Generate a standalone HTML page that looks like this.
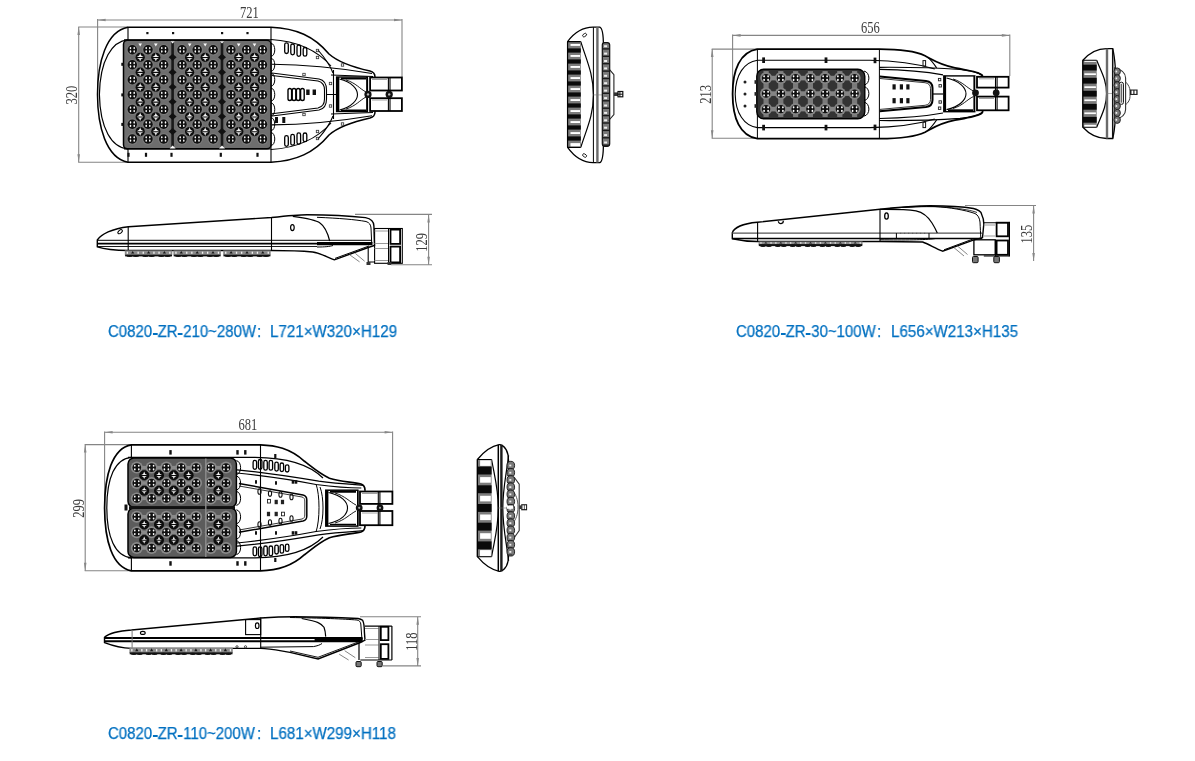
<!DOCTYPE html>
<html><head><meta charset="utf-8">
<style>
html,body{margin:0;padding:0;background:#fff;}
body{width:1195px;height:761px;position:relative;overflow:hidden;font-family:"Liberation Sans",sans-serif;}
svg{position:absolute;left:0;top:0;will-change:transform;}
.cap i{display:inline-block;width:4.9px;height:2.1px;background:#0070c0;vertical-align:2.4px;margin:0 0.45px;}
.cap{position:absolute;color:#0070c0;font-size:15.7px;white-space:nowrap;line-height:1;transform-origin:0 0;transform:scaleX(0.965);will-change:transform;-webkit-text-stroke:0.25px #0070c0;}
</style></head><body>
<svg width="1195" height="761" viewBox="0 0 1195 761">

<g stroke="#858585" stroke-width="1.1" fill="none"><path d="M97.6,20 H402"/><path d="M97.6,19 V95"/><path d="M402,19 V77"/><path d="M78.7,27 V162.3"/><path d="M78.2,27 H128"/><path d="M78.2,162.3 H128"/></g>
<path d="M97.6,20 l8,-1.3 l0,2.6Z" fill="#888"/><path d="M402,20 l-8,-1.3 l0,2.6Z" fill="#888"/><path d="M78.7,27 l-1.3,8 l2.6,0Z" fill="#888"/><path d="M78.7,162.3 l-1.3,-8 l2.6,0Z" fill="#888"/>
<text transform="translate(249.4,17.6) scale(0.775,1)" text-anchor="middle" font-family="Liberation Serif" font-size="16.2" fill="#3c3c3c">721</text>
<text transform="translate(77.2,95.1) rotate(-90) scale(0.775,1)" text-anchor="middle" font-family="Liberation Serif" font-size="16.2" fill="#3c3c3c">320</text>
<path d="M128,27.2 H271 C296,28.2 314,36 329,54 C338,62 352,67 370,71 C374,72 375,74 375,77 V112 C375,115 374,117 370,118 C352,122 338,127 329,135 C314,153 296,161 271,162.3 H128 C106,158 97.5,126 97.5,94.6 C97.5,63 106,31 128,27.2Z" fill="#fff" stroke="#000" stroke-width="1.5"/>
<path d="M128,39.8 C112,41 100,60 99.4,94.6 C100,129 112,148 128,149" fill="none" stroke="#000" stroke-width="1.2"/>
<path d="M128,27 V40 M128,149 V162.3 M271,27 V162.3" stroke="#000" stroke-width="1.1" fill="none"/>
<path d="M124,39.8 H271 M124,149 H271" stroke="#000" stroke-width="1.2"/>
<rect x="123.5" y="40.3" width="147.5" height="108.5" rx="4" fill="#6e6e6e" stroke="#000" stroke-width="1.5"/>
<rect x="121.3" y="62.8" width="2.4" height="3" fill="#111"/><rect x="121.3" y="93.4" width="2.4" height="3" fill="#111"/><rect x="121.3" y="122.9" width="2.4" height="3" fill="#111"/>
<circle cx="132.3" cy="49.8" r="5.9" fill="#7a7a7a"/><circle cx="132.3" cy="49.8" r="4.7" fill="#101010"/><ellipse cx="130.5" cy="48.1" rx="0.80" ry="1.15" fill="#fff"/><ellipse cx="130.5" cy="51.5" rx="0.80" ry="1.15" fill="#fff"/><ellipse cx="134.2" cy="48.1" rx="0.80" ry="1.15" fill="#fff"/><ellipse cx="134.2" cy="51.5" rx="0.80" ry="1.15" fill="#fff"/><circle cx="148.0" cy="49.8" r="5.9" fill="#7a7a7a"/><circle cx="148.0" cy="49.8" r="4.7" fill="#101010"/><ellipse cx="146.2" cy="48.1" rx="0.80" ry="1.15" fill="#fff"/><ellipse cx="146.2" cy="51.5" rx="0.80" ry="1.15" fill="#fff"/><ellipse cx="149.8" cy="48.1" rx="0.80" ry="1.15" fill="#fff"/><ellipse cx="149.8" cy="51.5" rx="0.80" ry="1.15" fill="#fff"/><circle cx="163.7" cy="49.8" r="5.9" fill="#7a7a7a"/><circle cx="163.7" cy="49.8" r="4.7" fill="#101010"/><ellipse cx="161.8" cy="48.1" rx="0.80" ry="1.15" fill="#fff"/><ellipse cx="161.8" cy="51.5" rx="0.80" ry="1.15" fill="#fff"/><ellipse cx="165.5" cy="48.1" rx="0.80" ry="1.15" fill="#fff"/><ellipse cx="165.5" cy="51.5" rx="0.80" ry="1.15" fill="#fff"/><circle cx="132.3" cy="64.8" r="5.9" fill="#7a7a7a"/><circle cx="132.3" cy="64.8" r="4.7" fill="#101010"/><ellipse cx="130.5" cy="63.1" rx="0.80" ry="1.15" fill="#fff"/><ellipse cx="130.5" cy="66.5" rx="0.80" ry="1.15" fill="#fff"/><ellipse cx="134.2" cy="63.1" rx="0.80" ry="1.15" fill="#fff"/><ellipse cx="134.2" cy="66.5" rx="0.80" ry="1.15" fill="#fff"/><circle cx="148.0" cy="64.8" r="5.9" fill="#7a7a7a"/><circle cx="148.0" cy="64.8" r="4.7" fill="#101010"/><ellipse cx="146.2" cy="63.1" rx="0.80" ry="1.15" fill="#fff"/><ellipse cx="146.2" cy="66.5" rx="0.80" ry="1.15" fill="#fff"/><ellipse cx="149.8" cy="63.1" rx="0.80" ry="1.15" fill="#fff"/><ellipse cx="149.8" cy="66.5" rx="0.80" ry="1.15" fill="#fff"/><circle cx="163.7" cy="64.8" r="5.9" fill="#7a7a7a"/><circle cx="163.7" cy="64.8" r="4.7" fill="#101010"/><ellipse cx="161.8" cy="63.1" rx="0.80" ry="1.15" fill="#fff"/><ellipse cx="161.8" cy="66.5" rx="0.80" ry="1.15" fill="#fff"/><ellipse cx="165.5" cy="63.1" rx="0.80" ry="1.15" fill="#fff"/><ellipse cx="165.5" cy="66.5" rx="0.80" ry="1.15" fill="#fff"/><circle cx="132.3" cy="79.7" r="5.9" fill="#7a7a7a"/><circle cx="132.3" cy="79.7" r="4.7" fill="#101010"/><ellipse cx="130.5" cy="78.0" rx="0.80" ry="1.15" fill="#fff"/><ellipse cx="130.5" cy="81.4" rx="0.80" ry="1.15" fill="#fff"/><ellipse cx="134.2" cy="78.0" rx="0.80" ry="1.15" fill="#fff"/><ellipse cx="134.2" cy="81.4" rx="0.80" ry="1.15" fill="#fff"/><circle cx="148.0" cy="79.7" r="5.9" fill="#7a7a7a"/><circle cx="148.0" cy="79.7" r="4.7" fill="#101010"/><ellipse cx="146.2" cy="78.0" rx="0.80" ry="1.15" fill="#fff"/><ellipse cx="146.2" cy="81.4" rx="0.80" ry="1.15" fill="#fff"/><ellipse cx="149.8" cy="78.0" rx="0.80" ry="1.15" fill="#fff"/><ellipse cx="149.8" cy="81.4" rx="0.80" ry="1.15" fill="#fff"/><circle cx="163.7" cy="79.7" r="5.9" fill="#7a7a7a"/><circle cx="163.7" cy="79.7" r="4.7" fill="#101010"/><ellipse cx="161.8" cy="78.0" rx="0.80" ry="1.15" fill="#fff"/><ellipse cx="161.8" cy="81.4" rx="0.80" ry="1.15" fill="#fff"/><ellipse cx="165.5" cy="78.0" rx="0.80" ry="1.15" fill="#fff"/><ellipse cx="165.5" cy="81.4" rx="0.80" ry="1.15" fill="#fff"/><circle cx="132.3" cy="94.6" r="5.9" fill="#7a7a7a"/><circle cx="132.3" cy="94.6" r="4.7" fill="#101010"/><ellipse cx="130.5" cy="92.9" rx="0.80" ry="1.15" fill="#fff"/><ellipse cx="130.5" cy="96.3" rx="0.80" ry="1.15" fill="#fff"/><ellipse cx="134.2" cy="92.9" rx="0.80" ry="1.15" fill="#fff"/><ellipse cx="134.2" cy="96.3" rx="0.80" ry="1.15" fill="#fff"/><circle cx="148.0" cy="94.6" r="5.9" fill="#7a7a7a"/><circle cx="148.0" cy="94.6" r="4.7" fill="#101010"/><ellipse cx="146.2" cy="92.9" rx="0.80" ry="1.15" fill="#fff"/><ellipse cx="146.2" cy="96.3" rx="0.80" ry="1.15" fill="#fff"/><ellipse cx="149.8" cy="92.9" rx="0.80" ry="1.15" fill="#fff"/><ellipse cx="149.8" cy="96.3" rx="0.80" ry="1.15" fill="#fff"/><circle cx="163.7" cy="94.6" r="5.9" fill="#7a7a7a"/><circle cx="163.7" cy="94.6" r="4.7" fill="#101010"/><ellipse cx="161.8" cy="92.9" rx="0.80" ry="1.15" fill="#fff"/><ellipse cx="161.8" cy="96.3" rx="0.80" ry="1.15" fill="#fff"/><ellipse cx="165.5" cy="92.9" rx="0.80" ry="1.15" fill="#fff"/><ellipse cx="165.5" cy="96.3" rx="0.80" ry="1.15" fill="#fff"/><circle cx="132.3" cy="109.4" r="5.9" fill="#7a7a7a"/><circle cx="132.3" cy="109.4" r="4.7" fill="#101010"/><ellipse cx="130.5" cy="107.7" rx="0.80" ry="1.15" fill="#fff"/><ellipse cx="130.5" cy="111.1" rx="0.80" ry="1.15" fill="#fff"/><ellipse cx="134.2" cy="107.7" rx="0.80" ry="1.15" fill="#fff"/><ellipse cx="134.2" cy="111.1" rx="0.80" ry="1.15" fill="#fff"/><circle cx="148.0" cy="109.4" r="5.9" fill="#7a7a7a"/><circle cx="148.0" cy="109.4" r="4.7" fill="#101010"/><ellipse cx="146.2" cy="107.7" rx="0.80" ry="1.15" fill="#fff"/><ellipse cx="146.2" cy="111.1" rx="0.80" ry="1.15" fill="#fff"/><ellipse cx="149.8" cy="107.7" rx="0.80" ry="1.15" fill="#fff"/><ellipse cx="149.8" cy="111.1" rx="0.80" ry="1.15" fill="#fff"/><circle cx="163.7" cy="109.4" r="5.9" fill="#7a7a7a"/><circle cx="163.7" cy="109.4" r="4.7" fill="#101010"/><ellipse cx="161.8" cy="107.7" rx="0.80" ry="1.15" fill="#fff"/><ellipse cx="161.8" cy="111.1" rx="0.80" ry="1.15" fill="#fff"/><ellipse cx="165.5" cy="107.7" rx="0.80" ry="1.15" fill="#fff"/><ellipse cx="165.5" cy="111.1" rx="0.80" ry="1.15" fill="#fff"/><circle cx="132.3" cy="124.2" r="5.9" fill="#7a7a7a"/><circle cx="132.3" cy="124.2" r="4.7" fill="#101010"/><ellipse cx="130.5" cy="122.5" rx="0.80" ry="1.15" fill="#fff"/><ellipse cx="130.5" cy="125.9" rx="0.80" ry="1.15" fill="#fff"/><ellipse cx="134.2" cy="122.5" rx="0.80" ry="1.15" fill="#fff"/><ellipse cx="134.2" cy="125.9" rx="0.80" ry="1.15" fill="#fff"/><circle cx="148.0" cy="124.2" r="5.9" fill="#7a7a7a"/><circle cx="148.0" cy="124.2" r="4.7" fill="#101010"/><ellipse cx="146.2" cy="122.5" rx="0.80" ry="1.15" fill="#fff"/><ellipse cx="146.2" cy="125.9" rx="0.80" ry="1.15" fill="#fff"/><ellipse cx="149.8" cy="122.5" rx="0.80" ry="1.15" fill="#fff"/><ellipse cx="149.8" cy="125.9" rx="0.80" ry="1.15" fill="#fff"/><circle cx="163.7" cy="124.2" r="5.9" fill="#7a7a7a"/><circle cx="163.7" cy="124.2" r="4.7" fill="#101010"/><ellipse cx="161.8" cy="122.5" rx="0.80" ry="1.15" fill="#fff"/><ellipse cx="161.8" cy="125.9" rx="0.80" ry="1.15" fill="#fff"/><ellipse cx="165.5" cy="122.5" rx="0.80" ry="1.15" fill="#fff"/><ellipse cx="165.5" cy="125.9" rx="0.80" ry="1.15" fill="#fff"/><circle cx="132.3" cy="139.0" r="5.9" fill="#7a7a7a"/><circle cx="132.3" cy="139.0" r="4.7" fill="#101010"/><ellipse cx="130.5" cy="137.3" rx="0.80" ry="1.15" fill="#fff"/><ellipse cx="130.5" cy="140.7" rx="0.80" ry="1.15" fill="#fff"/><ellipse cx="134.2" cy="137.3" rx="0.80" ry="1.15" fill="#fff"/><ellipse cx="134.2" cy="140.7" rx="0.80" ry="1.15" fill="#fff"/><circle cx="148.0" cy="139.0" r="5.9" fill="#7a7a7a"/><circle cx="148.0" cy="139.0" r="4.7" fill="#101010"/><ellipse cx="146.2" cy="137.3" rx="0.80" ry="1.15" fill="#fff"/><ellipse cx="146.2" cy="140.7" rx="0.80" ry="1.15" fill="#fff"/><ellipse cx="149.8" cy="137.3" rx="0.80" ry="1.15" fill="#fff"/><ellipse cx="149.8" cy="140.7" rx="0.80" ry="1.15" fill="#fff"/><circle cx="163.7" cy="139.0" r="5.9" fill="#7a7a7a"/><circle cx="163.7" cy="139.0" r="4.7" fill="#101010"/><ellipse cx="161.8" cy="137.3" rx="0.80" ry="1.15" fill="#fff"/><ellipse cx="161.8" cy="140.7" rx="0.80" ry="1.15" fill="#fff"/><ellipse cx="165.5" cy="137.3" rx="0.80" ry="1.15" fill="#fff"/><ellipse cx="165.5" cy="140.7" rx="0.80" ry="1.15" fill="#fff"/><circle cx="140.2" cy="57.3" r="4.6" fill="#0c0c0c"/><path d="M136.6,56.9 Q139.8,56.0 140.2,52.8 Q140.5,56.0 143.7,56.9Z" fill="#f4f4f4"/><path d="M137.1,58.0 Q139.8,58.9 140.2,61.6 Q140.5,58.9 143.2,58.0Z" fill="#e4e4e4"/><circle cx="155.8" cy="57.3" r="4.6" fill="#0c0c0c"/><path d="M152.3,56.9 Q155.5,56.0 155.8,52.8 Q156.2,56.0 159.4,56.9Z" fill="#f4f4f4"/><path d="M152.8,58.0 Q155.5,58.9 155.8,61.6 Q156.2,58.9 158.9,58.0Z" fill="#e4e4e4"/><circle cx="140.2" cy="72.2" r="4.6" fill="#0c0c0c"/><path d="M136.6,71.8 Q139.8,71.0 140.2,67.8 Q140.5,71.0 143.7,71.8Z" fill="#f4f4f4"/><path d="M137.1,73.0 Q139.8,73.9 140.2,76.6 Q140.5,73.9 143.2,73.0Z" fill="#e4e4e4"/><circle cx="155.8" cy="72.2" r="4.6" fill="#0c0c0c"/><path d="M152.3,71.8 Q155.5,71.0 155.8,67.8 Q156.2,71.0 159.4,71.8Z" fill="#f4f4f4"/><path d="M152.8,73.0 Q155.5,73.9 155.8,76.6 Q156.2,73.9 158.9,73.0Z" fill="#e4e4e4"/><circle cx="140.2" cy="87.2" r="4.6" fill="#0c0c0c"/><path d="M136.6,86.7 Q139.8,85.9 140.2,82.7 Q140.5,85.9 143.7,86.7Z" fill="#f4f4f4"/><path d="M137.1,87.9 Q139.8,88.8 140.2,91.5 Q140.5,88.8 143.2,87.9Z" fill="#e4e4e4"/><circle cx="155.8" cy="87.2" r="4.6" fill="#0c0c0c"/><path d="M152.3,86.7 Q155.5,85.9 155.8,82.7 Q156.2,85.9 159.4,86.7Z" fill="#f4f4f4"/><path d="M152.8,87.9 Q155.5,88.8 155.8,91.5 Q156.2,88.8 158.9,87.9Z" fill="#e4e4e4"/><circle cx="140.2" cy="102.0" r="4.6" fill="#0c0c0c"/><path d="M136.6,101.6 Q139.8,100.7 140.2,97.5 Q140.5,100.7 143.7,101.6Z" fill="#f4f4f4"/><path d="M137.1,102.7 Q139.8,103.6 140.2,106.3 Q140.5,103.6 143.2,102.7Z" fill="#e4e4e4"/><circle cx="155.8" cy="102.0" r="4.6" fill="#0c0c0c"/><path d="M152.3,101.6 Q155.5,100.7 155.8,97.5 Q156.2,100.7 159.4,101.6Z" fill="#f4f4f4"/><path d="M152.8,102.7 Q155.5,103.6 155.8,106.3 Q156.2,103.6 158.9,102.7Z" fill="#e4e4e4"/><circle cx="140.2" cy="116.8" r="4.6" fill="#0c0c0c"/><path d="M136.6,116.4 Q139.8,115.5 140.2,112.3 Q140.5,115.5 143.7,116.4Z" fill="#f4f4f4"/><path d="M137.1,117.5 Q139.8,118.4 140.2,121.1 Q140.5,118.4 143.2,117.5Z" fill="#e4e4e4"/><circle cx="155.8" cy="116.8" r="4.6" fill="#0c0c0c"/><path d="M152.3,116.4 Q155.5,115.5 155.8,112.3 Q156.2,115.5 159.4,116.4Z" fill="#f4f4f4"/><path d="M152.8,117.5 Q155.5,118.4 155.8,121.1 Q156.2,118.4 158.9,117.5Z" fill="#e4e4e4"/><circle cx="140.2" cy="131.6" r="4.6" fill="#0c0c0c"/><path d="M136.6,131.2 Q139.8,130.3 140.2,127.1 Q140.5,130.3 143.7,131.2Z" fill="#f4f4f4"/><path d="M137.1,132.3 Q139.8,133.2 140.2,135.9 Q140.5,133.2 143.2,132.3Z" fill="#e4e4e4"/><circle cx="155.8" cy="131.6" r="4.6" fill="#0c0c0c"/><path d="M152.3,131.2 Q155.5,130.3 155.8,127.1 Q156.2,130.3 159.4,131.2Z" fill="#f4f4f4"/><path d="M152.8,132.3 Q155.5,133.2 155.8,135.9 Q156.2,133.2 158.9,132.3Z" fill="#e4e4e4"/><circle cx="182.0" cy="49.8" r="5.9" fill="#7a7a7a"/><circle cx="182.0" cy="49.8" r="4.7" fill="#101010"/><ellipse cx="180.2" cy="48.1" rx="0.80" ry="1.15" fill="#fff"/><ellipse cx="180.2" cy="51.5" rx="0.80" ry="1.15" fill="#fff"/><ellipse cx="183.8" cy="48.1" rx="0.80" ry="1.15" fill="#fff"/><ellipse cx="183.8" cy="51.5" rx="0.80" ry="1.15" fill="#fff"/><circle cx="197.2" cy="49.8" r="5.9" fill="#7a7a7a"/><circle cx="197.2" cy="49.8" r="4.7" fill="#101010"/><ellipse cx="195.3" cy="48.1" rx="0.80" ry="1.15" fill="#fff"/><ellipse cx="195.3" cy="51.5" rx="0.80" ry="1.15" fill="#fff"/><ellipse cx="199.0" cy="48.1" rx="0.80" ry="1.15" fill="#fff"/><ellipse cx="199.0" cy="51.5" rx="0.80" ry="1.15" fill="#fff"/><circle cx="213.2" cy="49.8" r="5.9" fill="#7a7a7a"/><circle cx="213.2" cy="49.8" r="4.7" fill="#101010"/><ellipse cx="211.3" cy="48.1" rx="0.80" ry="1.15" fill="#fff"/><ellipse cx="211.3" cy="51.5" rx="0.80" ry="1.15" fill="#fff"/><ellipse cx="215.0" cy="48.1" rx="0.80" ry="1.15" fill="#fff"/><ellipse cx="215.0" cy="51.5" rx="0.80" ry="1.15" fill="#fff"/><circle cx="182.0" cy="64.8" r="5.9" fill="#7a7a7a"/><circle cx="182.0" cy="64.8" r="4.7" fill="#101010"/><ellipse cx="180.2" cy="63.1" rx="0.80" ry="1.15" fill="#fff"/><ellipse cx="180.2" cy="66.5" rx="0.80" ry="1.15" fill="#fff"/><ellipse cx="183.8" cy="63.1" rx="0.80" ry="1.15" fill="#fff"/><ellipse cx="183.8" cy="66.5" rx="0.80" ry="1.15" fill="#fff"/><circle cx="197.2" cy="64.8" r="5.9" fill="#7a7a7a"/><circle cx="197.2" cy="64.8" r="4.7" fill="#101010"/><ellipse cx="195.3" cy="63.1" rx="0.80" ry="1.15" fill="#fff"/><ellipse cx="195.3" cy="66.5" rx="0.80" ry="1.15" fill="#fff"/><ellipse cx="199.0" cy="63.1" rx="0.80" ry="1.15" fill="#fff"/><ellipse cx="199.0" cy="66.5" rx="0.80" ry="1.15" fill="#fff"/><circle cx="213.2" cy="64.8" r="5.9" fill="#7a7a7a"/><circle cx="213.2" cy="64.8" r="4.7" fill="#101010"/><ellipse cx="211.3" cy="63.1" rx="0.80" ry="1.15" fill="#fff"/><ellipse cx="211.3" cy="66.5" rx="0.80" ry="1.15" fill="#fff"/><ellipse cx="215.0" cy="63.1" rx="0.80" ry="1.15" fill="#fff"/><ellipse cx="215.0" cy="66.5" rx="0.80" ry="1.15" fill="#fff"/><circle cx="182.0" cy="79.7" r="5.9" fill="#7a7a7a"/><circle cx="182.0" cy="79.7" r="4.7" fill="#101010"/><ellipse cx="180.2" cy="78.0" rx="0.80" ry="1.15" fill="#fff"/><ellipse cx="180.2" cy="81.4" rx="0.80" ry="1.15" fill="#fff"/><ellipse cx="183.8" cy="78.0" rx="0.80" ry="1.15" fill="#fff"/><ellipse cx="183.8" cy="81.4" rx="0.80" ry="1.15" fill="#fff"/><circle cx="197.2" cy="79.7" r="5.9" fill="#7a7a7a"/><circle cx="197.2" cy="79.7" r="4.7" fill="#101010"/><ellipse cx="195.3" cy="78.0" rx="0.80" ry="1.15" fill="#fff"/><ellipse cx="195.3" cy="81.4" rx="0.80" ry="1.15" fill="#fff"/><ellipse cx="199.0" cy="78.0" rx="0.80" ry="1.15" fill="#fff"/><ellipse cx="199.0" cy="81.4" rx="0.80" ry="1.15" fill="#fff"/><circle cx="213.2" cy="79.7" r="5.9" fill="#7a7a7a"/><circle cx="213.2" cy="79.7" r="4.7" fill="#101010"/><ellipse cx="211.3" cy="78.0" rx="0.80" ry="1.15" fill="#fff"/><ellipse cx="211.3" cy="81.4" rx="0.80" ry="1.15" fill="#fff"/><ellipse cx="215.0" cy="78.0" rx="0.80" ry="1.15" fill="#fff"/><ellipse cx="215.0" cy="81.4" rx="0.80" ry="1.15" fill="#fff"/><circle cx="182.0" cy="94.6" r="5.9" fill="#7a7a7a"/><circle cx="182.0" cy="94.6" r="4.7" fill="#101010"/><ellipse cx="180.2" cy="92.9" rx="0.80" ry="1.15" fill="#fff"/><ellipse cx="180.2" cy="96.3" rx="0.80" ry="1.15" fill="#fff"/><ellipse cx="183.8" cy="92.9" rx="0.80" ry="1.15" fill="#fff"/><ellipse cx="183.8" cy="96.3" rx="0.80" ry="1.15" fill="#fff"/><circle cx="197.2" cy="94.6" r="5.9" fill="#7a7a7a"/><circle cx="197.2" cy="94.6" r="4.7" fill="#101010"/><ellipse cx="195.3" cy="92.9" rx="0.80" ry="1.15" fill="#fff"/><ellipse cx="195.3" cy="96.3" rx="0.80" ry="1.15" fill="#fff"/><ellipse cx="199.0" cy="92.9" rx="0.80" ry="1.15" fill="#fff"/><ellipse cx="199.0" cy="96.3" rx="0.80" ry="1.15" fill="#fff"/><circle cx="213.2" cy="94.6" r="5.9" fill="#7a7a7a"/><circle cx="213.2" cy="94.6" r="4.7" fill="#101010"/><ellipse cx="211.3" cy="92.9" rx="0.80" ry="1.15" fill="#fff"/><ellipse cx="211.3" cy="96.3" rx="0.80" ry="1.15" fill="#fff"/><ellipse cx="215.0" cy="92.9" rx="0.80" ry="1.15" fill="#fff"/><ellipse cx="215.0" cy="96.3" rx="0.80" ry="1.15" fill="#fff"/><circle cx="182.0" cy="109.4" r="5.9" fill="#7a7a7a"/><circle cx="182.0" cy="109.4" r="4.7" fill="#101010"/><ellipse cx="180.2" cy="107.7" rx="0.80" ry="1.15" fill="#fff"/><ellipse cx="180.2" cy="111.1" rx="0.80" ry="1.15" fill="#fff"/><ellipse cx="183.8" cy="107.7" rx="0.80" ry="1.15" fill="#fff"/><ellipse cx="183.8" cy="111.1" rx="0.80" ry="1.15" fill="#fff"/><circle cx="197.2" cy="109.4" r="5.9" fill="#7a7a7a"/><circle cx="197.2" cy="109.4" r="4.7" fill="#101010"/><ellipse cx="195.3" cy="107.7" rx="0.80" ry="1.15" fill="#fff"/><ellipse cx="195.3" cy="111.1" rx="0.80" ry="1.15" fill="#fff"/><ellipse cx="199.0" cy="107.7" rx="0.80" ry="1.15" fill="#fff"/><ellipse cx="199.0" cy="111.1" rx="0.80" ry="1.15" fill="#fff"/><circle cx="213.2" cy="109.4" r="5.9" fill="#7a7a7a"/><circle cx="213.2" cy="109.4" r="4.7" fill="#101010"/><ellipse cx="211.3" cy="107.7" rx="0.80" ry="1.15" fill="#fff"/><ellipse cx="211.3" cy="111.1" rx="0.80" ry="1.15" fill="#fff"/><ellipse cx="215.0" cy="107.7" rx="0.80" ry="1.15" fill="#fff"/><ellipse cx="215.0" cy="111.1" rx="0.80" ry="1.15" fill="#fff"/><circle cx="182.0" cy="124.2" r="5.9" fill="#7a7a7a"/><circle cx="182.0" cy="124.2" r="4.7" fill="#101010"/><ellipse cx="180.2" cy="122.5" rx="0.80" ry="1.15" fill="#fff"/><ellipse cx="180.2" cy="125.9" rx="0.80" ry="1.15" fill="#fff"/><ellipse cx="183.8" cy="122.5" rx="0.80" ry="1.15" fill="#fff"/><ellipse cx="183.8" cy="125.9" rx="0.80" ry="1.15" fill="#fff"/><circle cx="197.2" cy="124.2" r="5.9" fill="#7a7a7a"/><circle cx="197.2" cy="124.2" r="4.7" fill="#101010"/><ellipse cx="195.3" cy="122.5" rx="0.80" ry="1.15" fill="#fff"/><ellipse cx="195.3" cy="125.9" rx="0.80" ry="1.15" fill="#fff"/><ellipse cx="199.0" cy="122.5" rx="0.80" ry="1.15" fill="#fff"/><ellipse cx="199.0" cy="125.9" rx="0.80" ry="1.15" fill="#fff"/><circle cx="213.2" cy="124.2" r="5.9" fill="#7a7a7a"/><circle cx="213.2" cy="124.2" r="4.7" fill="#101010"/><ellipse cx="211.3" cy="122.5" rx="0.80" ry="1.15" fill="#fff"/><ellipse cx="211.3" cy="125.9" rx="0.80" ry="1.15" fill="#fff"/><ellipse cx="215.0" cy="122.5" rx="0.80" ry="1.15" fill="#fff"/><ellipse cx="215.0" cy="125.9" rx="0.80" ry="1.15" fill="#fff"/><circle cx="182.0" cy="139.0" r="5.9" fill="#7a7a7a"/><circle cx="182.0" cy="139.0" r="4.7" fill="#101010"/><ellipse cx="180.2" cy="137.3" rx="0.80" ry="1.15" fill="#fff"/><ellipse cx="180.2" cy="140.7" rx="0.80" ry="1.15" fill="#fff"/><ellipse cx="183.8" cy="137.3" rx="0.80" ry="1.15" fill="#fff"/><ellipse cx="183.8" cy="140.7" rx="0.80" ry="1.15" fill="#fff"/><circle cx="197.2" cy="139.0" r="5.9" fill="#7a7a7a"/><circle cx="197.2" cy="139.0" r="4.7" fill="#101010"/><ellipse cx="195.3" cy="137.3" rx="0.80" ry="1.15" fill="#fff"/><ellipse cx="195.3" cy="140.7" rx="0.80" ry="1.15" fill="#fff"/><ellipse cx="199.0" cy="137.3" rx="0.80" ry="1.15" fill="#fff"/><ellipse cx="199.0" cy="140.7" rx="0.80" ry="1.15" fill="#fff"/><circle cx="213.2" cy="139.0" r="5.9" fill="#7a7a7a"/><circle cx="213.2" cy="139.0" r="4.7" fill="#101010"/><ellipse cx="211.3" cy="137.3" rx="0.80" ry="1.15" fill="#fff"/><ellipse cx="211.3" cy="140.7" rx="0.80" ry="1.15" fill="#fff"/><ellipse cx="215.0" cy="137.3" rx="0.80" ry="1.15" fill="#fff"/><ellipse cx="215.0" cy="140.7" rx="0.80" ry="1.15" fill="#fff"/><circle cx="189.6" cy="57.3" r="4.6" fill="#0c0c0c"/><path d="M186.0,56.9 Q189.2,56.0 189.6,52.8 Q190.0,56.0 193.2,56.9Z" fill="#f4f4f4"/><path d="M186.6,58.0 Q189.2,58.9 189.6,61.6 Q190.0,58.9 192.6,58.0Z" fill="#e4e4e4"/><circle cx="205.2" cy="57.3" r="4.6" fill="#0c0c0c"/><path d="M201.6,56.9 Q204.8,56.0 205.2,52.8 Q205.6,56.0 208.8,56.9Z" fill="#f4f4f4"/><path d="M202.2,58.0 Q204.8,58.9 205.2,61.6 Q205.6,58.9 208.2,58.0Z" fill="#e4e4e4"/><circle cx="189.6" cy="72.2" r="4.6" fill="#0c0c0c"/><path d="M186.0,71.8 Q189.2,71.0 189.6,67.8 Q190.0,71.0 193.2,71.8Z" fill="#f4f4f4"/><path d="M186.6,73.0 Q189.2,73.9 189.6,76.6 Q190.0,73.9 192.6,73.0Z" fill="#e4e4e4"/><circle cx="205.2" cy="72.2" r="4.6" fill="#0c0c0c"/><path d="M201.6,71.8 Q204.8,71.0 205.2,67.8 Q205.6,71.0 208.8,71.8Z" fill="#f4f4f4"/><path d="M202.2,73.0 Q204.8,73.9 205.2,76.6 Q205.6,73.9 208.2,73.0Z" fill="#e4e4e4"/><circle cx="189.6" cy="87.2" r="4.6" fill="#0c0c0c"/><path d="M186.0,86.7 Q189.2,85.9 189.6,82.7 Q190.0,85.9 193.2,86.7Z" fill="#f4f4f4"/><path d="M186.6,87.9 Q189.2,88.8 189.6,91.5 Q190.0,88.8 192.6,87.9Z" fill="#e4e4e4"/><circle cx="205.2" cy="87.2" r="4.6" fill="#0c0c0c"/><path d="M201.6,86.7 Q204.8,85.9 205.2,82.7 Q205.6,85.9 208.8,86.7Z" fill="#f4f4f4"/><path d="M202.2,87.9 Q204.8,88.8 205.2,91.5 Q205.6,88.8 208.2,87.9Z" fill="#e4e4e4"/><circle cx="189.6" cy="102.0" r="4.6" fill="#0c0c0c"/><path d="M186.0,101.6 Q189.2,100.7 189.6,97.5 Q190.0,100.7 193.2,101.6Z" fill="#f4f4f4"/><path d="M186.6,102.7 Q189.2,103.6 189.6,106.3 Q190.0,103.6 192.6,102.7Z" fill="#e4e4e4"/><circle cx="205.2" cy="102.0" r="4.6" fill="#0c0c0c"/><path d="M201.6,101.6 Q204.8,100.7 205.2,97.5 Q205.6,100.7 208.8,101.6Z" fill="#f4f4f4"/><path d="M202.2,102.7 Q204.8,103.6 205.2,106.3 Q205.6,103.6 208.2,102.7Z" fill="#e4e4e4"/><circle cx="189.6" cy="116.8" r="4.6" fill="#0c0c0c"/><path d="M186.0,116.4 Q189.2,115.5 189.6,112.3 Q190.0,115.5 193.2,116.4Z" fill="#f4f4f4"/><path d="M186.6,117.5 Q189.2,118.4 189.6,121.1 Q190.0,118.4 192.6,117.5Z" fill="#e4e4e4"/><circle cx="205.2" cy="116.8" r="4.6" fill="#0c0c0c"/><path d="M201.6,116.4 Q204.8,115.5 205.2,112.3 Q205.6,115.5 208.8,116.4Z" fill="#f4f4f4"/><path d="M202.2,117.5 Q204.8,118.4 205.2,121.1 Q205.6,118.4 208.2,117.5Z" fill="#e4e4e4"/><circle cx="189.6" cy="131.6" r="4.6" fill="#0c0c0c"/><path d="M186.0,131.2 Q189.2,130.3 189.6,127.1 Q190.0,130.3 193.2,131.2Z" fill="#f4f4f4"/><path d="M186.6,132.3 Q189.2,133.2 189.6,135.9 Q190.0,133.2 192.6,132.3Z" fill="#e4e4e4"/><circle cx="205.2" cy="131.6" r="4.6" fill="#0c0c0c"/><path d="M201.6,131.2 Q204.8,130.3 205.2,127.1 Q205.6,130.3 208.8,131.2Z" fill="#f4f4f4"/><path d="M202.2,132.3 Q204.8,133.2 205.2,135.9 Q205.6,133.2 208.2,132.3Z" fill="#e4e4e4"/><circle cx="230.9" cy="49.8" r="5.9" fill="#7a7a7a"/><circle cx="230.9" cy="49.8" r="4.7" fill="#101010"/><ellipse cx="229.1" cy="48.1" rx="0.80" ry="1.15" fill="#fff"/><ellipse cx="229.1" cy="51.5" rx="0.80" ry="1.15" fill="#fff"/><ellipse cx="232.8" cy="48.1" rx="0.80" ry="1.15" fill="#fff"/><ellipse cx="232.8" cy="51.5" rx="0.80" ry="1.15" fill="#fff"/><circle cx="246.6" cy="49.8" r="5.9" fill="#7a7a7a"/><circle cx="246.6" cy="49.8" r="4.7" fill="#101010"/><ellipse cx="244.8" cy="48.1" rx="0.80" ry="1.15" fill="#fff"/><ellipse cx="244.8" cy="51.5" rx="0.80" ry="1.15" fill="#fff"/><ellipse cx="248.4" cy="48.1" rx="0.80" ry="1.15" fill="#fff"/><ellipse cx="248.4" cy="51.5" rx="0.80" ry="1.15" fill="#fff"/><circle cx="262.5" cy="49.8" r="5.9" fill="#7a7a7a"/><circle cx="262.5" cy="49.8" r="4.7" fill="#101010"/><ellipse cx="260.6" cy="48.1" rx="0.80" ry="1.15" fill="#fff"/><ellipse cx="260.6" cy="51.5" rx="0.80" ry="1.15" fill="#fff"/><ellipse cx="264.4" cy="48.1" rx="0.80" ry="1.15" fill="#fff"/><ellipse cx="264.4" cy="51.5" rx="0.80" ry="1.15" fill="#fff"/><circle cx="230.9" cy="64.8" r="5.9" fill="#7a7a7a"/><circle cx="230.9" cy="64.8" r="4.7" fill="#101010"/><ellipse cx="229.1" cy="63.1" rx="0.80" ry="1.15" fill="#fff"/><ellipse cx="229.1" cy="66.5" rx="0.80" ry="1.15" fill="#fff"/><ellipse cx="232.8" cy="63.1" rx="0.80" ry="1.15" fill="#fff"/><ellipse cx="232.8" cy="66.5" rx="0.80" ry="1.15" fill="#fff"/><circle cx="246.6" cy="64.8" r="5.9" fill="#7a7a7a"/><circle cx="246.6" cy="64.8" r="4.7" fill="#101010"/><ellipse cx="244.8" cy="63.1" rx="0.80" ry="1.15" fill="#fff"/><ellipse cx="244.8" cy="66.5" rx="0.80" ry="1.15" fill="#fff"/><ellipse cx="248.4" cy="63.1" rx="0.80" ry="1.15" fill="#fff"/><ellipse cx="248.4" cy="66.5" rx="0.80" ry="1.15" fill="#fff"/><circle cx="262.5" cy="64.8" r="5.9" fill="#7a7a7a"/><circle cx="262.5" cy="64.8" r="4.7" fill="#101010"/><ellipse cx="260.6" cy="63.1" rx="0.80" ry="1.15" fill="#fff"/><ellipse cx="260.6" cy="66.5" rx="0.80" ry="1.15" fill="#fff"/><ellipse cx="264.4" cy="63.1" rx="0.80" ry="1.15" fill="#fff"/><ellipse cx="264.4" cy="66.5" rx="0.80" ry="1.15" fill="#fff"/><circle cx="230.9" cy="79.7" r="5.9" fill="#7a7a7a"/><circle cx="230.9" cy="79.7" r="4.7" fill="#101010"/><ellipse cx="229.1" cy="78.0" rx="0.80" ry="1.15" fill="#fff"/><ellipse cx="229.1" cy="81.4" rx="0.80" ry="1.15" fill="#fff"/><ellipse cx="232.8" cy="78.0" rx="0.80" ry="1.15" fill="#fff"/><ellipse cx="232.8" cy="81.4" rx="0.80" ry="1.15" fill="#fff"/><circle cx="246.6" cy="79.7" r="5.9" fill="#7a7a7a"/><circle cx="246.6" cy="79.7" r="4.7" fill="#101010"/><ellipse cx="244.8" cy="78.0" rx="0.80" ry="1.15" fill="#fff"/><ellipse cx="244.8" cy="81.4" rx="0.80" ry="1.15" fill="#fff"/><ellipse cx="248.4" cy="78.0" rx="0.80" ry="1.15" fill="#fff"/><ellipse cx="248.4" cy="81.4" rx="0.80" ry="1.15" fill="#fff"/><circle cx="262.5" cy="79.7" r="5.9" fill="#7a7a7a"/><circle cx="262.5" cy="79.7" r="4.7" fill="#101010"/><ellipse cx="260.6" cy="78.0" rx="0.80" ry="1.15" fill="#fff"/><ellipse cx="260.6" cy="81.4" rx="0.80" ry="1.15" fill="#fff"/><ellipse cx="264.4" cy="78.0" rx="0.80" ry="1.15" fill="#fff"/><ellipse cx="264.4" cy="81.4" rx="0.80" ry="1.15" fill="#fff"/><circle cx="230.9" cy="94.6" r="5.9" fill="#7a7a7a"/><circle cx="230.9" cy="94.6" r="4.7" fill="#101010"/><ellipse cx="229.1" cy="92.9" rx="0.80" ry="1.15" fill="#fff"/><ellipse cx="229.1" cy="96.3" rx="0.80" ry="1.15" fill="#fff"/><ellipse cx="232.8" cy="92.9" rx="0.80" ry="1.15" fill="#fff"/><ellipse cx="232.8" cy="96.3" rx="0.80" ry="1.15" fill="#fff"/><circle cx="246.6" cy="94.6" r="5.9" fill="#7a7a7a"/><circle cx="246.6" cy="94.6" r="4.7" fill="#101010"/><ellipse cx="244.8" cy="92.9" rx="0.80" ry="1.15" fill="#fff"/><ellipse cx="244.8" cy="96.3" rx="0.80" ry="1.15" fill="#fff"/><ellipse cx="248.4" cy="92.9" rx="0.80" ry="1.15" fill="#fff"/><ellipse cx="248.4" cy="96.3" rx="0.80" ry="1.15" fill="#fff"/><circle cx="262.5" cy="94.6" r="5.9" fill="#7a7a7a"/><circle cx="262.5" cy="94.6" r="4.7" fill="#101010"/><ellipse cx="260.6" cy="92.9" rx="0.80" ry="1.15" fill="#fff"/><ellipse cx="260.6" cy="96.3" rx="0.80" ry="1.15" fill="#fff"/><ellipse cx="264.4" cy="92.9" rx="0.80" ry="1.15" fill="#fff"/><ellipse cx="264.4" cy="96.3" rx="0.80" ry="1.15" fill="#fff"/><circle cx="230.9" cy="109.4" r="5.9" fill="#7a7a7a"/><circle cx="230.9" cy="109.4" r="4.7" fill="#101010"/><ellipse cx="229.1" cy="107.7" rx="0.80" ry="1.15" fill="#fff"/><ellipse cx="229.1" cy="111.1" rx="0.80" ry="1.15" fill="#fff"/><ellipse cx="232.8" cy="107.7" rx="0.80" ry="1.15" fill="#fff"/><ellipse cx="232.8" cy="111.1" rx="0.80" ry="1.15" fill="#fff"/><circle cx="246.6" cy="109.4" r="5.9" fill="#7a7a7a"/><circle cx="246.6" cy="109.4" r="4.7" fill="#101010"/><ellipse cx="244.8" cy="107.7" rx="0.80" ry="1.15" fill="#fff"/><ellipse cx="244.8" cy="111.1" rx="0.80" ry="1.15" fill="#fff"/><ellipse cx="248.4" cy="107.7" rx="0.80" ry="1.15" fill="#fff"/><ellipse cx="248.4" cy="111.1" rx="0.80" ry="1.15" fill="#fff"/><circle cx="262.5" cy="109.4" r="5.9" fill="#7a7a7a"/><circle cx="262.5" cy="109.4" r="4.7" fill="#101010"/><ellipse cx="260.6" cy="107.7" rx="0.80" ry="1.15" fill="#fff"/><ellipse cx="260.6" cy="111.1" rx="0.80" ry="1.15" fill="#fff"/><ellipse cx="264.4" cy="107.7" rx="0.80" ry="1.15" fill="#fff"/><ellipse cx="264.4" cy="111.1" rx="0.80" ry="1.15" fill="#fff"/><circle cx="230.9" cy="124.2" r="5.9" fill="#7a7a7a"/><circle cx="230.9" cy="124.2" r="4.7" fill="#101010"/><ellipse cx="229.1" cy="122.5" rx="0.80" ry="1.15" fill="#fff"/><ellipse cx="229.1" cy="125.9" rx="0.80" ry="1.15" fill="#fff"/><ellipse cx="232.8" cy="122.5" rx="0.80" ry="1.15" fill="#fff"/><ellipse cx="232.8" cy="125.9" rx="0.80" ry="1.15" fill="#fff"/><circle cx="246.6" cy="124.2" r="5.9" fill="#7a7a7a"/><circle cx="246.6" cy="124.2" r="4.7" fill="#101010"/><ellipse cx="244.8" cy="122.5" rx="0.80" ry="1.15" fill="#fff"/><ellipse cx="244.8" cy="125.9" rx="0.80" ry="1.15" fill="#fff"/><ellipse cx="248.4" cy="122.5" rx="0.80" ry="1.15" fill="#fff"/><ellipse cx="248.4" cy="125.9" rx="0.80" ry="1.15" fill="#fff"/><circle cx="262.5" cy="124.2" r="5.9" fill="#7a7a7a"/><circle cx="262.5" cy="124.2" r="4.7" fill="#101010"/><ellipse cx="260.6" cy="122.5" rx="0.80" ry="1.15" fill="#fff"/><ellipse cx="260.6" cy="125.9" rx="0.80" ry="1.15" fill="#fff"/><ellipse cx="264.4" cy="122.5" rx="0.80" ry="1.15" fill="#fff"/><ellipse cx="264.4" cy="125.9" rx="0.80" ry="1.15" fill="#fff"/><circle cx="230.9" cy="139.0" r="5.9" fill="#7a7a7a"/><circle cx="230.9" cy="139.0" r="4.7" fill="#101010"/><ellipse cx="229.1" cy="137.3" rx="0.80" ry="1.15" fill="#fff"/><ellipse cx="229.1" cy="140.7" rx="0.80" ry="1.15" fill="#fff"/><ellipse cx="232.8" cy="137.3" rx="0.80" ry="1.15" fill="#fff"/><ellipse cx="232.8" cy="140.7" rx="0.80" ry="1.15" fill="#fff"/><circle cx="246.6" cy="139.0" r="5.9" fill="#7a7a7a"/><circle cx="246.6" cy="139.0" r="4.7" fill="#101010"/><ellipse cx="244.8" cy="137.3" rx="0.80" ry="1.15" fill="#fff"/><ellipse cx="244.8" cy="140.7" rx="0.80" ry="1.15" fill="#fff"/><ellipse cx="248.4" cy="137.3" rx="0.80" ry="1.15" fill="#fff"/><ellipse cx="248.4" cy="140.7" rx="0.80" ry="1.15" fill="#fff"/><circle cx="262.5" cy="139.0" r="5.9" fill="#7a7a7a"/><circle cx="262.5" cy="139.0" r="4.7" fill="#101010"/><ellipse cx="260.6" cy="137.3" rx="0.80" ry="1.15" fill="#fff"/><ellipse cx="260.6" cy="140.7" rx="0.80" ry="1.15" fill="#fff"/><ellipse cx="264.4" cy="137.3" rx="0.80" ry="1.15" fill="#fff"/><ellipse cx="264.4" cy="140.7" rx="0.80" ry="1.15" fill="#fff"/><circle cx="238.8" cy="57.3" r="4.6" fill="#0c0c0c"/><path d="M235.2,56.9 Q238.4,56.0 238.8,52.8 Q239.1,56.0 242.3,56.9Z" fill="#f4f4f4"/><path d="M235.7,58.0 Q238.4,58.9 238.8,61.6 Q239.1,58.9 241.8,58.0Z" fill="#e4e4e4"/><circle cx="254.6" cy="57.3" r="4.6" fill="#0c0c0c"/><path d="M251.0,56.9 Q254.2,56.0 254.6,52.8 Q254.9,56.0 258.1,56.9Z" fill="#f4f4f4"/><path d="M251.5,58.0 Q254.2,58.9 254.6,61.6 Q254.9,58.9 257.6,58.0Z" fill="#e4e4e4"/><circle cx="238.8" cy="72.2" r="4.6" fill="#0c0c0c"/><path d="M235.2,71.8 Q238.4,71.0 238.8,67.8 Q239.1,71.0 242.3,71.8Z" fill="#f4f4f4"/><path d="M235.7,73.0 Q238.4,73.9 238.8,76.6 Q239.1,73.9 241.8,73.0Z" fill="#e4e4e4"/><circle cx="254.6" cy="72.2" r="4.6" fill="#0c0c0c"/><path d="M251.0,71.8 Q254.2,71.0 254.6,67.8 Q254.9,71.0 258.1,71.8Z" fill="#f4f4f4"/><path d="M251.5,73.0 Q254.2,73.9 254.6,76.6 Q254.9,73.9 257.6,73.0Z" fill="#e4e4e4"/><circle cx="238.8" cy="87.2" r="4.6" fill="#0c0c0c"/><path d="M235.2,86.7 Q238.4,85.9 238.8,82.7 Q239.1,85.9 242.3,86.7Z" fill="#f4f4f4"/><path d="M235.7,87.9 Q238.4,88.8 238.8,91.5 Q239.1,88.8 241.8,87.9Z" fill="#e4e4e4"/><circle cx="254.6" cy="87.2" r="4.6" fill="#0c0c0c"/><path d="M251.0,86.7 Q254.2,85.9 254.6,82.7 Q254.9,85.9 258.1,86.7Z" fill="#f4f4f4"/><path d="M251.5,87.9 Q254.2,88.8 254.6,91.5 Q254.9,88.8 257.6,87.9Z" fill="#e4e4e4"/><circle cx="238.8" cy="102.0" r="4.6" fill="#0c0c0c"/><path d="M235.2,101.6 Q238.4,100.7 238.8,97.5 Q239.1,100.7 242.3,101.6Z" fill="#f4f4f4"/><path d="M235.7,102.7 Q238.4,103.6 238.8,106.3 Q239.1,103.6 241.8,102.7Z" fill="#e4e4e4"/><circle cx="254.6" cy="102.0" r="4.6" fill="#0c0c0c"/><path d="M251.0,101.6 Q254.2,100.7 254.6,97.5 Q254.9,100.7 258.1,101.6Z" fill="#f4f4f4"/><path d="M251.5,102.7 Q254.2,103.6 254.6,106.3 Q254.9,103.6 257.6,102.7Z" fill="#e4e4e4"/><circle cx="238.8" cy="116.8" r="4.6" fill="#0c0c0c"/><path d="M235.2,116.4 Q238.4,115.5 238.8,112.3 Q239.1,115.5 242.3,116.4Z" fill="#f4f4f4"/><path d="M235.7,117.5 Q238.4,118.4 238.8,121.1 Q239.1,118.4 241.8,117.5Z" fill="#e4e4e4"/><circle cx="254.6" cy="116.8" r="4.6" fill="#0c0c0c"/><path d="M251.0,116.4 Q254.2,115.5 254.6,112.3 Q254.9,115.5 258.1,116.4Z" fill="#f4f4f4"/><path d="M251.5,117.5 Q254.2,118.4 254.6,121.1 Q254.9,118.4 257.6,117.5Z" fill="#e4e4e4"/><circle cx="238.8" cy="131.6" r="4.6" fill="#0c0c0c"/><path d="M235.2,131.2 Q238.4,130.3 238.8,127.1 Q239.1,130.3 242.3,131.2Z" fill="#f4f4f4"/><path d="M235.7,132.3 Q238.4,133.2 238.8,135.9 Q239.1,133.2 241.8,132.3Z" fill="#e4e4e4"/><circle cx="254.6" cy="131.6" r="4.6" fill="#0c0c0c"/><path d="M251.0,131.2 Q254.2,130.3 254.6,127.1 Q254.9,130.3 258.1,131.2Z" fill="#f4f4f4"/><path d="M251.5,132.3 Q254.2,133.2 254.6,135.9 Q254.9,133.2 257.6,132.3Z" fill="#e4e4e4"/>
<path d="M172.6,40.5 V148.5 M222,40.5 V148.5" stroke="#1a1a1a" stroke-width="2.6"/>
<path d="M168.6,57.3 L172.6,53.8 L176.6,57.3 L172.6,60.8Z" fill="#111"/>
<path d="M168.6,72.2 L172.6,68.7 L176.6,72.2 L172.6,75.7Z" fill="#111"/>
<path d="M168.6,87.0 L172.6,83.5 L176.6,87.0 L172.6,90.5Z" fill="#111"/>
<path d="M168.6,101.8 L172.6,98.3 L176.6,101.8 L172.6,105.3Z" fill="#111"/>
<path d="M168.6,116.5 L172.6,113.0 L176.6,116.5 L172.6,120.0Z" fill="#111"/>
<path d="M168.6,131.4 L172.6,127.9 L176.6,131.4 L172.6,134.9Z" fill="#111"/>
<path d="M169.6,148.4 L172.6,145.6 L175.6,148.4Z" fill="#fff"/>
<path d="M170.6,41.2 L172.6,43.5 L174.6,41.2Z" fill="#fff"/>
<path d="M218.0,57.3 L222.0,53.8 L226.0,57.3 L222.0,60.8Z" fill="#111"/>
<path d="M218.0,72.2 L222.0,68.7 L226.0,72.2 L222.0,75.7Z" fill="#111"/>
<path d="M218.0,87.0 L222.0,83.5 L226.0,87.0 L222.0,90.5Z" fill="#111"/>
<path d="M218.0,101.8 L222.0,98.3 L226.0,101.8 L222.0,105.3Z" fill="#111"/>
<path d="M218.0,116.5 L222.0,113.0 L226.0,116.5 L222.0,120.0Z" fill="#111"/>
<path d="M218.0,131.4 L222.0,127.9 L226.0,131.4 L222.0,134.9Z" fill="#111"/>
<path d="M219.0,148.4 L222.0,145.6 L225.0,148.4Z" fill="#fff"/>
<path d="M220.0,41.2 L222.0,43.5 L224.0,41.2Z" fill="#fff"/>
<path d="M138.4,43.6 L140.2,46.4 L142.0,43.6Z" fill="#fff"/>
<path d="M154.0,43.6 L155.8,46.4 L157.6,43.6Z" fill="#fff"/>
<path d="M187.9,43.6 L189.7,46.4 L191.5,43.6Z" fill="#fff"/>
<path d="M203.4,43.6 L205.2,46.4 L207.0,43.6Z" fill="#fff"/>
<path d="M236.9,43.6 L238.7,46.4 L240.5,43.6Z" fill="#fff"/>
<path d="M252.7,43.6 L254.5,46.4 L256.3,43.6Z" fill="#fff"/>
<g stroke="#000" stroke-width="1" fill="none"><path d="M271,43.3 C276,43.8 276,55.8 271,56.3"/><path d="M271,58.3 C276,58.8 276,70.8 271,71.3"/><path d="M271,73.2 C276,73.7 276,85.7 271,86.2"/><path d="M271,88.1 C276,88.6 276,100.6 271,101.1"/><path d="M271,102.9 C276,103.4 276,115.4 271,115.9"/><path d="M271,117.7 C276,118.2 276,130.2 271,130.7"/><path d="M271,132.5 C276,133.0 276,145.0 271,145.5"/></g>
<g stroke="#000" stroke-width="1.1" fill="none"><path d="M271,39.5 C296,41 316,49 331,66"/><path d="M271,149.5 C296,148 316,140 331,123"/><path d="M272,64.3 C300,64.5 330,66.5 372,73.5"/><path d="M272,124.9 C300,124.7 330,122.7 372,115.7"/><path d="M272,73 L319,79 C324,80 326.5,84 326.5,90 V99 C326.5,105 324,109 319,110 L272,116"/><path d="M272,75.5 L318,81 C322,82 324.5,85 324.5,90 V99 C324.5,104 322,107 318,108 L272,113.7"/><path d="M318,50 C325,58 330,65 333,73 M318,139 C325,131 330,124 333,116"/><path d="M331,75 L373,76.5 M331,114 L373,112.5"/><path d="M326.5,94.5 H336 M333.5,70 V119"/></g>
<rect x="284.7" y="42.8" width="3.6" height="10.7" rx="1.8" fill="none" stroke="#000" stroke-width="1.3"/>
<rect x="284.7" y="135.7" width="3.6" height="10.7" rx="1.8" fill="none" stroke="#000" stroke-width="1.3"/>
<rect x="290.8" y="44.0" width="3.6" height="10.8" rx="1.8" fill="none" stroke="#000" stroke-width="1.3"/>
<rect x="290.8" y="134.4" width="3.6" height="10.8" rx="1.8" fill="none" stroke="#000" stroke-width="1.3"/>
<rect x="297.0" y="45.0" width="3.6" height="11.3" rx="1.8" fill="none" stroke="#000" stroke-width="1.3"/>
<rect x="297.0" y="132.9" width="3.6" height="11.3" rx="1.8" fill="none" stroke="#000" stroke-width="1.3"/>
<rect x="303.2" y="47.5" width="3.6" height="8.7" rx="1.8" fill="none" stroke="#000" stroke-width="1.3"/>
<rect x="303.2" y="133.0" width="3.6" height="8.7" rx="1.8" fill="none" stroke="#000" stroke-width="1.3"/>
<rect x="288.0" y="88.5" width="3.6" height="12" rx="1.8" fill="none" stroke="#000" stroke-width="1.4"/>
<rect x="292.2" y="88.5" width="3.6" height="12" rx="1.8" fill="none" stroke="#000" stroke-width="1.4"/>
<rect x="296.4" y="88.5" width="3.6" height="12" rx="1.8" fill="none" stroke="#000" stroke-width="1.4"/>
<rect x="300.6" y="88.5" width="3.6" height="12" rx="1.8" fill="none" stroke="#000" stroke-width="1.4"/>
<rect x="306.2" y="89.5" width="3.4" height="5.5" fill="#111"/><rect x="312.6" y="89.5" width="3.4" height="5.5" fill="#111"/>
<rect x="275" y="117" width="3" height="6" fill="#111"/><rect x="282.3" y="117" width="3" height="6" fill="#111"/>
<rect x="316.3" y="49.3" width="2.4" height="2.4" fill="none" stroke="#333" stroke-width="0.8"/>
<rect x="316.3" y="56.3" width="2.4" height="2.4" fill="none" stroke="#333" stroke-width="0.8"/>
<rect x="341.3" y="63.8" width="2.4" height="2.4" fill="none" stroke="#333" stroke-width="0.8"/>
<rect x="302.8" y="73.3" width="2.4" height="2.4" fill="none" stroke="#333" stroke-width="0.8"/>
<rect x="329.3" y="82.3" width="2.4" height="2.4" fill="none" stroke="#333" stroke-width="0.8"/>
<rect x="329.3" y="104.8" width="2.4" height="2.4" fill="none" stroke="#333" stroke-width="0.8"/>
<rect x="302.8" y="113.3" width="2.4" height="2.4" fill="none" stroke="#333" stroke-width="0.8"/>
<rect x="341.3" y="122.8" width="2.4" height="2.4" fill="none" stroke="#333" stroke-width="0.8"/>
<rect x="316.3" y="130.3" width="2.4" height="2.4" fill="none" stroke="#333" stroke-width="0.8"/>
<rect x="316.3" y="137.3" width="2.4" height="2.4" fill="none" stroke="#333" stroke-width="0.8"/>
<g stroke="#000" fill="none"><rect x="336.6" y="77" width="30.8" height="34.5" stroke-width="1.4"/><path d="M338,77 V111.5" stroke-width="2.6"/><path d="M339.5,79 C352,82 357.5,89 357.5,94.5 C357.5,100 352,107 339.5,110" stroke-width="1.1"/><path d="M346,80 C356,83 360,89 366,92 M346,109 C356,106 360,100 366,97" stroke-width="0.9"/><path d="M341,78.5 H366 M341,110.5 H366" stroke-width="1.8"/><rect x="369.2" y="77.3" width="32.6" height="33.8" fill="#fff" stroke="none"/><rect x="370.1" y="77.5" width="31.8" height="13" stroke-width="1.8"/><rect x="370.1" y="98.2" width="31.8" height="12.8" stroke-width="1.8"/><path d="M372,79.5 H387 M372,100 H387" stroke="#888" stroke-width="0.8"/><path d="M388.4,77.5 V111 M390,77.5 V111" stroke-width="1.1"/><path d="M367,76.8 V111.7" stroke-width="1.6"/></g>
<circle cx="368" cy="94.4" r="3.6" fill="#111"/><circle cx="368" cy="94.4" r="1.2" fill="#bbb"/>
<circle cx="389.2" cy="94.4" r="3.6" fill="#111"/><circle cx="389.2" cy="94.4" r="1.2" fill="#bbb"/>
<rect x="146.3" y="32" width="2.2" height="2.2" fill="#111"/>
<rect x="172.0" y="32" width="2.2" height="2.2" fill="#111"/>
<rect x="221.0" y="32" width="2.2" height="2.2" fill="#111"/>
<rect x="246.4" y="32" width="2.2" height="2.2" fill="#111"/>
<rect x="127.4" y="152.8" width="2.2" height="4" fill="#111"/>
<rect x="144.9" y="152.8" width="2.2" height="4" fill="#111"/>
<rect x="170.4" y="152.8" width="2.2" height="4" fill="#111"/>
<rect x="219.7" y="152.8" width="2.2" height="4" fill="#111"/>
<rect x="256.4" y="152.8" width="2.2" height="4" fill="#111"/>
<path d="M567.6,41.6 C575.2,31.5 584.1,27.2 593.0,27.2 H599.8 C602.3,28.2 603.4,34.4 603.4,45.6 L603.4,47.6 V141.4 L603.4,143.4 C603.4,155.0 602.3,161.6 599.8,162.6 H593.0 C584.1,162.6 575.2,158.0 567.6,147.4Z" fill="#fff" stroke="#000" stroke-width="1.3"/>
<path d="M580.8,41.6 C586.5,60.3 593.4,73.6 593.4,94.9 C593.4,115.9 586.5,129.0 580.8,147.4" fill="none" stroke="#000" stroke-width="1.2"/>
<path d="M593.4,27.2 V162.6" stroke="#000" stroke-width="1.0"/>
<rect x="596.2" y="27.2" width="2.4" height="135.4" fill="#6a6a6a"/>
<path d="M593.4,94.9 H603.4" stroke="#777" stroke-width="0.6"/>
<rect x="567.6" y="41.6" width="13.2" height="105.8" fill="#7c7c7c"/>
<rect x="570.5" y="44.0" width="9.5" height="1.9" fill="#fff"/>
<rect x="570.5" y="55.0" width="9.5" height="1.9" fill="#fff"/>
<rect x="570.5" y="66.0" width="9.5" height="1.9" fill="#fff"/>
<rect x="570.5" y="77.1" width="9.5" height="1.9" fill="#fff"/>
<rect x="570.5" y="88.1" width="9.5" height="1.9" fill="#fff"/>
<rect x="570.5" y="99.1" width="9.5" height="1.9" fill="#fff"/>
<rect x="570.5" y="110.1" width="9.5" height="1.9" fill="#fff"/>
<rect x="570.5" y="121.1" width="9.5" height="1.9" fill="#fff"/>
<rect x="570.5" y="132.1" width="9.5" height="1.9" fill="#fff"/>
<rect x="570.5" y="143.1" width="9.5" height="1.9" fill="#fff"/>
<rect x="570.5" y="144.7" width="9.5" height="1.9" fill="#fff"/>
<rect x="567.6" y="48.4" width="13.2" height="4.2" fill="#0a0a0a"/>
<rect x="567.6" y="59.4" width="13.2" height="4.2" fill="#0a0a0a"/>
<rect x="567.6" y="70.4" width="13.2" height="4.2" fill="#0a0a0a"/>
<rect x="567.6" y="81.4" width="13.2" height="4.2" fill="#0a0a0a"/>
<rect x="567.6" y="92.4" width="13.2" height="4.2" fill="#0a0a0a"/>
<rect x="567.6" y="103.4" width="13.2" height="4.2" fill="#0a0a0a"/>
<rect x="567.6" y="114.4" width="13.2" height="4.2" fill="#0a0a0a"/>
<rect x="567.6" y="125.4" width="13.2" height="4.2" fill="#0a0a0a"/>
<rect x="567.6" y="136.4" width="13.2" height="4.2" fill="#0a0a0a"/>
<path d="M567.6,41.6 H580.8 M567.6,147.4 H580.8 M567.6,41.6 V147.4" stroke="#000" stroke-width="1.1"/>
<rect x="602.3" y="42.6" width="7.4" height="103.7" rx="2.5" fill="#7a7a7a" stroke="#111" stroke-width="1.2"/>
<rect x="604.1" y="45.2" width="3.0" height="2" fill="#eee"/><path d="M602.3,48.9 H609.7" stroke="#1a1a1a" stroke-width="1.4"/>
<rect x="604.1" y="52.6" width="3.0" height="2" fill="#eee"/><path d="M602.3,56.3 H609.7" stroke="#1a1a1a" stroke-width="1.4"/>
<rect x="604.1" y="60.0" width="3.0" height="2" fill="#eee"/><path d="M602.3,63.7 H609.7" stroke="#1a1a1a" stroke-width="1.4"/>
<rect x="604.1" y="67.4" width="3.0" height="2" fill="#eee"/><path d="M602.3,71.1 H609.7" stroke="#1a1a1a" stroke-width="1.4"/>
<rect x="604.1" y="74.8" width="3.0" height="2" fill="#eee"/><path d="M602.3,78.5 H609.7" stroke="#1a1a1a" stroke-width="1.4"/>
<rect x="604.1" y="82.2" width="3.0" height="2" fill="#eee"/><path d="M602.3,85.9 H609.7" stroke="#1a1a1a" stroke-width="1.4"/>
<rect x="604.1" y="89.6" width="3.0" height="2" fill="#eee"/><path d="M602.3,93.3 H609.7" stroke="#1a1a1a" stroke-width="1.4"/>
<rect x="604.1" y="97.1" width="3.0" height="2" fill="#eee"/><path d="M602.3,100.8 H609.7" stroke="#1a1a1a" stroke-width="1.4"/>
<rect x="604.1" y="104.5" width="3.0" height="2" fill="#eee"/><path d="M602.3,108.2 H609.7" stroke="#1a1a1a" stroke-width="1.4"/>
<rect x="604.1" y="111.9" width="3.0" height="2" fill="#eee"/><path d="M602.3,115.6 H609.7" stroke="#1a1a1a" stroke-width="1.4"/>
<rect x="604.1" y="119.3" width="3.0" height="2" fill="#eee"/><path d="M602.3,123.0 H609.7" stroke="#1a1a1a" stroke-width="1.4"/>
<rect x="604.1" y="126.7" width="3.0" height="2" fill="#eee"/><path d="M602.3,130.4 H609.7" stroke="#1a1a1a" stroke-width="1.4"/>
<rect x="604.1" y="134.1" width="3.0" height="2" fill="#eee"/><path d="M602.3,137.8 H609.7" stroke="#1a1a1a" stroke-width="1.4"/>
<rect x="604.1" y="141.5" width="3.0" height="2" fill="#eee"/><path d="M602.3,145.2 H609.7" stroke="#1a1a1a" stroke-width="1.4"/>
<path d="M608.7,68.7 L613.9,74.7 V114.5 L608.7,120.5" fill="none" stroke="#222" stroke-width="1.1"/>
<rect x="613.9" y="92.4" width="4.1" height="3.6" fill="#333"/>
<rect x="618.0" y="91.5" width="4.8" height="5.3" fill="#fff" stroke="#111" stroke-width="1.2"/>
<path d="M619.9,91.5 V96.9 M618.0,94.2 H622.8" stroke="#111" stroke-width="1"/>
<rect x="582.5" y="33.8" width="4.2" height="2.6" rx="1.2" transform="rotate(-35 584.6 35.1)" fill="none" stroke="#111" stroke-width="0.9"/><rect x="582.5" y="154.2" width="4.2" height="2.6" rx="1.2" transform="rotate(35 584.6 155.5)" fill="none" stroke="#111" stroke-width="0.9"/>
<path d="M1082.9,60.3 C1090.0,52.1 1098.3,48.6 1106.6,48.6 H1112.7 C1117.2,66.6 1117.2,120.5 1112.7,138.5 H1106.6 C1098.3,138.5 1090.0,135.1 1082.9,127.3Z" fill="#fff" stroke="#000" stroke-width="1.3"/>
<path d="M1096.7,60.3 C1101.2,71.9 1106.6,80.2 1106.6,93.5 C1106.6,107.0 1101.2,115.5 1096.7,127.3" fill="none" stroke="#000" stroke-width="1.2"/>
<path d="M1106.6,48.6 V138.5" stroke="#000" stroke-width="1.0"/>
<rect x="1105.8" y="48.6" width="2.4" height="89.9" fill="#6a6a6a"/>
<path d="M1106.6,93.5 H1112.7" stroke="#777" stroke-width="0.6"/>
<rect x="1082.9" y="60.3" width="13.8" height="67.0" fill="#7c7c7c"/>
<rect x="1084.4" y="60.2" width="11.5" height="1.7" fill="#fff"/>
<rect x="1084.4" y="73.3" width="11.5" height="1.7" fill="#fff"/>
<rect x="1084.4" y="86.3" width="11.5" height="1.7" fill="#fff"/>
<rect x="1084.4" y="99.4" width="11.5" height="1.7" fill="#fff"/>
<rect x="1084.4" y="112.4" width="11.5" height="1.7" fill="#fff"/>
<rect x="1084.4" y="125.5" width="11.5" height="1.7" fill="#fff"/>
<rect x="1084.4" y="124.8" width="11.5" height="1.7" fill="#fff"/>
<rect x="1082.9" y="64.7" width="13.8" height="5.8" fill="#0a0a0a"/>
<rect x="1082.9" y="77.8" width="13.8" height="5.8" fill="#0a0a0a"/>
<rect x="1082.9" y="90.8" width="13.8" height="5.8" fill="#0a0a0a"/>
<rect x="1082.9" y="103.9" width="13.8" height="5.8" fill="#0a0a0a"/>
<rect x="1082.9" y="116.9" width="13.8" height="5.8" fill="#0a0a0a"/>
<path d="M1082.9,60.3 H1096.7 M1082.9,127.3 H1096.7 M1082.9,60.3 V127.3" stroke="#000" stroke-width="1.1"/>
<path d="M1112.7,48.6 V138.5" stroke="#111" stroke-width="1.5"/><path d="M1114.5,67.7 C1122,69.5 1125.6,73 1125.6,78 V109.5 C1125.6,115 1122,118 1114.5,119.8 Z" fill="#fff" stroke="#333" stroke-width="1.1"/><path d="M1125.6,82 C1128.5,84.5 1130,88 1130,91 V96.5 C1130,99.5 1128.5,102.5 1125.6,104.8" fill="none" stroke="#444" stroke-width="1"/><ellipse cx="1117.2" cy="71.5" rx="3.2" ry="3.6" fill="#777" stroke="#1a1a1a" stroke-width="0.9"/><rect x="1115.6" y="70.6" width="1.6" height="1.8" fill="#eee"/><ellipse cx="1117.2" cy="78.4" rx="3.2" ry="3.6" fill="#777" stroke="#1a1a1a" stroke-width="0.9"/><rect x="1115.6" y="77.5" width="1.6" height="1.8" fill="#eee"/><ellipse cx="1117.2" cy="85.3" rx="3.2" ry="3.6" fill="#777" stroke="#1a1a1a" stroke-width="0.9"/><rect x="1115.6" y="84.4" width="1.6" height="1.8" fill="#eee"/><ellipse cx="1117.2" cy="92.2" rx="3.2" ry="3.6" fill="#777" stroke="#1a1a1a" stroke-width="0.9"/><rect x="1115.6" y="91.3" width="1.6" height="1.8" fill="#eee"/><ellipse cx="1117.2" cy="99.1" rx="3.2" ry="3.6" fill="#777" stroke="#1a1a1a" stroke-width="0.9"/><rect x="1115.6" y="98.2" width="1.6" height="1.8" fill="#eee"/><ellipse cx="1117.2" cy="106.0" rx="3.2" ry="3.6" fill="#777" stroke="#1a1a1a" stroke-width="0.9"/><rect x="1115.6" y="105.1" width="1.6" height="1.8" fill="#eee"/><ellipse cx="1117.2" cy="112.9" rx="3.2" ry="3.6" fill="#777" stroke="#1a1a1a" stroke-width="0.9"/><rect x="1115.6" y="112.0" width="1.6" height="1.8" fill="#eee"/><ellipse cx="1117.2" cy="119.8" rx="3.2" ry="3.6" fill="#777" stroke="#1a1a1a" stroke-width="0.9"/><rect x="1115.6" y="118.9" width="1.6" height="1.8" fill="#eee"/><rect x="1119.2" y="82.2" width="4.3" height="22.2" rx="2" fill="#ddd" stroke="#222" stroke-width="1"/><path d="M1121.3,84 V102.6" stroke="#222" stroke-width="0.8"/><rect x="1130" y="89.5" width="7.6" height="5.5" fill="#222"/><rect x="1131.5" y="90.6" width="1.8" height="3.3" fill="#fff"/><rect x="1134.5" y="90.6" width="1.8" height="3.3" fill="#fff"/>
<path d="M477.4,459.5 C485.0,450.3 492.7,445.9 499.2,444.7 H500.0 C505.2,446.2 508.6,452.1 508.6,461.5 V554.7 C508.6,564.0 505.2,569.8 500.0,571.3 H499.2 C492.7,570.1 485.0,565.8 477.4,556.7Z" fill="#fff" stroke="#000" stroke-width="1.3"/>
<path d="M491.6,459.5 C494.6,476.5 498.3,488.6 498.3,508.0 C498.3,527.5 494.6,539.7 491.6,556.7" fill="none" stroke="#000" stroke-width="1.2"/>
<path d="M508.6,455.5 C506.0,476.5 502.8,488.6 502.8,508.0 C502.8,527.5 506.0,539.7 508.6,560.7" fill="none" stroke="#000" stroke-width="1.2"/>
<path d="M498.3,444.7 V571.3" stroke="#000" stroke-width="1.5"/>
<rect x="500.2" y="444.7" width="2.4" height="126.6" fill="#1a1a1a"/>
<path d="M498.3,508.0 H508.6" stroke="#777" stroke-width="0.6"/>
<rect x="477.4" y="459.5" width="14.2" height="97.2" fill="#7c7c7c"/>
<rect x="480.1" y="460.3" width="10.7" height="5.6" fill="#fff"/>
<rect x="480.1" y="477.1" width="10.7" height="5.6" fill="#fff"/>
<rect x="480.1" y="495.8" width="10.7" height="5.6" fill="#fff"/>
<rect x="480.1" y="514.5" width="10.7" height="5.6" fill="#fff"/>
<rect x="480.1" y="533.2" width="10.7" height="5.6" fill="#fff"/>
<rect x="480.1" y="550.3" width="10.7" height="5.6" fill="#fff"/>
<rect x="480.1" y="550.3" width="10.7" height="5.6" fill="#fff"/>
<rect x="477.4" y="466.6" width="14.2" height="7.9" fill="#0a0a0a"/>
<rect x="477.4" y="485.3" width="14.2" height="7.9" fill="#0a0a0a"/>
<rect x="477.4" y="504.0" width="14.2" height="7.9" fill="#0a0a0a"/>
<rect x="477.4" y="522.7" width="14.2" height="7.9" fill="#0a0a0a"/>
<rect x="477.4" y="541.4" width="14.2" height="7.9" fill="#0a0a0a"/>
<path d="M477.4,459.5 H491.6 M477.4,556.7 H491.6 M477.4,459.5 V556.7" stroke="#000" stroke-width="1.1"/>
<path d="M514,477 L519.2,484.3 V530.5 L514,538" fill="none" stroke="#333" stroke-width="1.1"/><path d="M512,490 C516,494 518,500 518,507 C518,514 516,520 512,524" fill="none" stroke="#444" stroke-width="0.9"/><ellipse cx="510.8" cy="465.5" rx="3.8" ry="4.2" fill="#7a7a7a" stroke="#1a1a1a" stroke-width="0.9"/><rect x="509.3" y="464.6" width="2" height="1.8" fill="#eee"/><path d="M507.5,468.5 h5" stroke="#222" stroke-width="0.9"/><ellipse cx="510.8" cy="472.7" rx="3.8" ry="4.2" fill="#7a7a7a" stroke="#1a1a1a" stroke-width="0.9"/><rect x="509.3" y="471.8" width="2" height="1.8" fill="#eee"/><path d="M507.5,475.7 h5" stroke="#222" stroke-width="0.9"/><ellipse cx="510.8" cy="479.9" rx="3.8" ry="4.2" fill="#7a7a7a" stroke="#1a1a1a" stroke-width="0.9"/><rect x="509.3" y="479.0" width="2" height="1.8" fill="#eee"/><path d="M507.5,482.9 h5" stroke="#222" stroke-width="0.9"/><ellipse cx="510.8" cy="487.1" rx="3.8" ry="4.2" fill="#7a7a7a" stroke="#1a1a1a" stroke-width="0.9"/><rect x="509.3" y="486.2" width="2" height="1.8" fill="#eee"/><path d="M507.5,490.1 h5" stroke="#222" stroke-width="0.9"/><ellipse cx="510.8" cy="494.3" rx="3.8" ry="4.2" fill="#7a7a7a" stroke="#1a1a1a" stroke-width="0.9"/><rect x="509.3" y="493.4" width="2" height="1.8" fill="#eee"/><path d="M507.5,497.3 h5" stroke="#222" stroke-width="0.9"/><ellipse cx="510.8" cy="501.5" rx="3.8" ry="4.2" fill="#7a7a7a" stroke="#1a1a1a" stroke-width="0.9"/><rect x="509.3" y="500.6" width="2" height="1.8" fill="#eee"/><path d="M507.5,504.5 h5" stroke="#222" stroke-width="0.9"/><ellipse cx="510.8" cy="508.7" rx="3.8" ry="4.2" fill="#7a7a7a" stroke="#1a1a1a" stroke-width="0.9"/><rect x="509.3" y="507.8" width="2" height="1.8" fill="#eee"/><path d="M507.5,511.7 h5" stroke="#222" stroke-width="0.9"/><ellipse cx="510.8" cy="515.9" rx="3.8" ry="4.2" fill="#7a7a7a" stroke="#1a1a1a" stroke-width="0.9"/><rect x="509.3" y="515.0" width="2" height="1.8" fill="#eee"/><path d="M507.5,518.9 h5" stroke="#222" stroke-width="0.9"/><ellipse cx="510.8" cy="523.1" rx="3.8" ry="4.2" fill="#7a7a7a" stroke="#1a1a1a" stroke-width="0.9"/><rect x="509.3" y="522.2" width="2" height="1.8" fill="#eee"/><path d="M507.5,526.1 h5" stroke="#222" stroke-width="0.9"/><ellipse cx="510.8" cy="530.3" rx="3.8" ry="4.2" fill="#7a7a7a" stroke="#1a1a1a" stroke-width="0.9"/><rect x="509.3" y="529.4" width="2" height="1.8" fill="#eee"/><path d="M507.5,533.3 h5" stroke="#222" stroke-width="0.9"/><ellipse cx="510.8" cy="537.5" rx="3.8" ry="4.2" fill="#7a7a7a" stroke="#1a1a1a" stroke-width="0.9"/><rect x="509.3" y="536.6" width="2" height="1.8" fill="#eee"/><path d="M507.5,540.5 h5" stroke="#222" stroke-width="0.9"/><ellipse cx="510.8" cy="544.7" rx="3.8" ry="4.2" fill="#7a7a7a" stroke="#1a1a1a" stroke-width="0.9"/><rect x="509.3" y="543.8" width="2" height="1.8" fill="#eee"/><path d="M507.5,547.7 h5" stroke="#222" stroke-width="0.9"/><ellipse cx="510.8" cy="551.9" rx="3.8" ry="4.2" fill="#7a7a7a" stroke="#1a1a1a" stroke-width="0.9"/><rect x="509.3" y="551.0" width="2" height="1.8" fill="#eee"/><path d="M507.5,554.9 h5" stroke="#222" stroke-width="0.9"/><rect x="507" y="505.6" width="6" height="3.2" fill="#fff"/><rect x="519.2" y="505.4" width="2" height="3.6" fill="#333"/><rect x="521.2" y="504.2" width="5.9" height="6.1" fill="#1a1a1a"/><rect x="522.4" y="505.3" width="1.5" height="3.8" fill="#fff"/><rect x="524.6" y="505.3" width="1.5" height="3.8" fill="#fff"/>
<path d="M97.3,240 C101,234.5 112,228.5 128.5,226.7 L271.5,217.5 C288,215.7 298,214.7 307,214.7 C330,214.7 350,215.8 365.5,217.6 C370.5,218.6 373.9,221.5 373.9,226 L374.5,245.5 L369.6,247 L334.5,259.8 C328,257.5 320,253 312.7,252 C300,250.8 285,250.5 271.5,250.5 H128.5 C113,250.3 104,249 97.3,246.8Z" fill="#fff" stroke="#000" stroke-width="1.4"/>
<g stroke="#000" fill="none"><path d="M97.3,240.3 H372" stroke-width="1"/><path d="M97.3,243.6 H372" stroke-width="1.7"/><path d="M97.3,246.5 H317" stroke-width="0.9"/><path d="M317,243.6 H372.5" stroke-width="3.4"/><path d="M128.2,226.7 V250.5 M271.5,217.5 V250.5" stroke-width="1.1"/><path d="M292.8,216.4 C305,218 316,220 320,223 C325,226.5 328,234 329.7,241" stroke-width="1.2"/><path d="M317,217.3 C340,218.3 355,219.5 366,221.5 C369.5,222.5 370.8,225 371,228 L371.7,243" stroke-width="1"/><path d="M317,247 C325,247 330,246.5 333,245.5" stroke-width="1"/><path d="M335,258.4 L369,246" stroke-width="1"/><path d="M349.7,254.8 L359.6,261.9 M355.3,253.4 L364.6,261.2" stroke-width="0.9" stroke="#777"/></g>
<ellipse cx="120.1" cy="231.7" rx="2.6" ry="1.5" transform="rotate(-40 120.1 231.7)" fill="none" stroke="#000" stroke-width="1"/>
<ellipse cx="292.4" cy="227.6" rx="1.8" ry="3" fill="none" stroke="#000" stroke-width="1.2"/>
<rect x="124.8" y="250.4" width="47.5" height="4.9" fill="#8a8a8a"/><rect x="125.1" y="254.7" width="46.9" height="1.7" fill="#111"/><ellipse cx="129.6" cy="256.1" rx="3.2" ry="1.0" fill="#111"/><ellipse cx="135.9" cy="256.1" rx="3.2" ry="1.0" fill="#111"/><path d="M131.1,253.6 L132.7,251.0 L134.3,253.6Z" fill="#1a1a1a"/><rect x="126.7" y="251.7" width="1.3" height="2.1" fill="#f2f2f2"/><rect x="137.5" y="251.7" width="1.3" height="2.1" fill="#f2f2f2"/><ellipse cx="145.4" cy="256.1" rx="3.2" ry="1.0" fill="#111"/><ellipse cx="151.7" cy="256.1" rx="3.2" ry="1.0" fill="#111"/><path d="M147.0,253.6 L148.6,251.0 L150.2,253.6Z" fill="#1a1a1a"/><rect x="142.6" y="251.7" width="1.3" height="2.1" fill="#f2f2f2"/><rect x="153.3" y="251.7" width="1.3" height="2.1" fill="#f2f2f2"/><ellipse cx="161.3" cy="256.1" rx="3.2" ry="1.0" fill="#111"/><ellipse cx="167.6" cy="256.1" rx="3.2" ry="1.0" fill="#111"/><path d="M162.8,253.6 L164.4,251.0 L166.0,253.6Z" fill="#1a1a1a"/><rect x="158.4" y="251.7" width="1.3" height="2.1" fill="#f2f2f2"/><rect x="169.2" y="251.7" width="1.3" height="2.1" fill="#f2f2f2"/><rect x="173.4" y="250.4" width="47.5" height="4.9" fill="#8a8a8a"/><rect x="173.7" y="254.7" width="46.9" height="1.7" fill="#111"/><ellipse cx="178.2" cy="256.1" rx="3.2" ry="1.0" fill="#111"/><ellipse cx="184.5" cy="256.1" rx="3.2" ry="1.0" fill="#111"/><path d="M179.7,253.6 L181.3,251.0 L182.9,253.6Z" fill="#1a1a1a"/><rect x="175.3" y="251.7" width="1.3" height="2.1" fill="#f2f2f2"/><rect x="186.1" y="251.7" width="1.3" height="2.1" fill="#f2f2f2"/><ellipse cx="194.0" cy="256.1" rx="3.2" ry="1.0" fill="#111"/><ellipse cx="200.3" cy="256.1" rx="3.2" ry="1.0" fill="#111"/><path d="M195.6,253.6 L197.2,251.0 L198.8,253.6Z" fill="#1a1a1a"/><rect x="191.2" y="251.7" width="1.3" height="2.1" fill="#f2f2f2"/><rect x="201.9" y="251.7" width="1.3" height="2.1" fill="#f2f2f2"/><ellipse cx="209.9" cy="256.1" rx="3.2" ry="1.0" fill="#111"/><ellipse cx="216.2" cy="256.1" rx="3.2" ry="1.0" fill="#111"/><path d="M211.4,253.6 L213.0,251.0 L214.6,253.6Z" fill="#1a1a1a"/><rect x="207.0" y="251.7" width="1.3" height="2.1" fill="#f2f2f2"/><rect x="217.8" y="251.7" width="1.3" height="2.1" fill="#f2f2f2"/><rect x="223.2" y="250.4" width="47.5" height="4.9" fill="#8a8a8a"/><rect x="223.5" y="254.7" width="46.9" height="1.7" fill="#111"/><ellipse cx="228.0" cy="256.1" rx="3.2" ry="1.0" fill="#111"/><ellipse cx="234.3" cy="256.1" rx="3.2" ry="1.0" fill="#111"/><path d="M229.5,253.6 L231.1,251.0 L232.7,253.6Z" fill="#1a1a1a"/><rect x="225.1" y="251.7" width="1.3" height="2.1" fill="#f2f2f2"/><rect x="235.9" y="251.7" width="1.3" height="2.1" fill="#f2f2f2"/><ellipse cx="243.8" cy="256.1" rx="3.2" ry="1.0" fill="#111"/><ellipse cx="250.1" cy="256.1" rx="3.2" ry="1.0" fill="#111"/><path d="M245.4,253.6 L247.0,251.0 L248.6,253.6Z" fill="#1a1a1a"/><rect x="241.0" y="251.7" width="1.3" height="2.1" fill="#f2f2f2"/><rect x="251.7" y="251.7" width="1.3" height="2.1" fill="#f2f2f2"/><ellipse cx="259.7" cy="256.1" rx="3.2" ry="1.0" fill="#111"/><ellipse cx="266.0" cy="256.1" rx="3.2" ry="1.0" fill="#111"/><path d="M261.2,253.6 L262.8,251.0 L264.4,253.6Z" fill="#1a1a1a"/><rect x="256.8" y="251.7" width="1.3" height="2.1" fill="#f2f2f2"/><rect x="267.6" y="251.7" width="1.3" height="2.1" fill="#f2f2f2"/>
<g stroke="#000" fill="none"><rect x="374.6" y="228.5" width="27.7" height="34.8" stroke-width="1.1"/><path d="M374.6,231 H388 M374.6,243.5 H388 M374.6,248.5 H388 M374.6,260.5 H388" stroke="#999" stroke-width="1"/><path d="M388.5,228.5 V263.3" stroke-width="1"/><rect x="390.5" y="229.6" width="9.6" height="14.3" stroke-width="1.8"/><rect x="390.5" y="246.6" width="9.6" height="15.8" stroke-width="1.8"/><path d="M368.2,247.7 V262" stroke-width="1.1"/><path d="M368.2,262 H374.6" stroke-width="1"/></g>
<rect x="366.5" y="262" width="4" height="3" fill="#333"/><rect x="387.5" y="262" width="4" height="3" fill="#333"/>
<g stroke="#858585" stroke-width="1.1" fill="none"><path d="M428.6,214.4 V264.7"/><path d="M355,214.4 H432"/><path d="M391,264.7 H432"/></g>
<path d="M428.6,214.4 l-1.3,8 l2.6,0Z" fill="#888"/><path d="M428.6,264.7 l-1.3,-8 l2.6,0Z" fill="#888"/>
<text transform="translate(426.6,242.35) rotate(-90) scale(0.775,1)" text-anchor="middle" font-family="Liberation Serif" font-size="16.2" fill="#3c3c3c">129</text>
<g stroke="#858585" stroke-width="1.1" fill="none"><path d="M732.6,35.4 H1009.8"/><path d="M732.6,34.5 V93"/><path d="M1009.8,34.5 V76"/><path d="M712.2,49.1 V138.2"/><path d="M711.7,49.1 H757"/><path d="M711.7,138.2 H757"/></g>
<path d="M732.6,35.4 l8,-1.3 l0,2.6Z" fill="#888"/><path d="M1009.8,35.4 l-8,-1.3 l0,2.6Z" fill="#888"/><path d="M712.2,49.1 l-1.3,8 l2.6,0Z" fill="#888"/><path d="M712.2,138.2 l-1.3,-8 l2.6,0Z" fill="#888"/>
<text transform="translate(870.4,32.7) scale(0.775,1)" text-anchor="middle" font-family="Liberation Serif" font-size="16.2" fill="#3c3c3c">656</text>
<text transform="translate(710.8,94.35) rotate(-90) scale(0.775,1)" text-anchor="middle" font-family="Liberation Serif" font-size="16.2" fill="#3c3c3c">213</text>
<path d="M757.4,49.2 H879.4 C900,49.2 915,51 925,55.8 C933,60 940,65 955,67.8 C965,69.6 975,71.5 979,73.3 C982,74.5 982.6,75.5 982.6,76.5 V111.5 C982.6,112.5 982,113.5 979,114.7 C975,116.5 965,118.4 955,120.2 C940,123 933,128 925,132.2 C915,137 900,138.6 879.4,138.6 H757.4 C740,136 732.6,118 732.6,93.9 C732.6,70 740,52 757.4,49.2Z" fill="#fff" stroke="#000" stroke-width="1.8"/>
<path d="M757.4,60.2 C744,62 735.5,75 735.2,93.9 C735.5,113 744,126 757.4,127.6" fill="none" stroke="#000" stroke-width="1.1"/>
<path d="M757.4,49.2 V138.6 M879.4,49.2 V138.6" stroke="#000" stroke-width="1" fill="none"/>
<path d="M757.4,60.2 H870 C895,60.5 915,63 934.8,69 M757.4,127.6 H870 C895,127.3 915,125 934.8,119" stroke="#000" stroke-width="1.1" fill="none"/>
<rect x="756.8" y="69.3" width="108" height="49.4" rx="7" fill="#333" stroke="#000" stroke-width="1.4"/>
<rect x="763.5" y="71" width="5.2" height="46" fill="#7a7a7a"/>
<rect x="778.2" y="71" width="5.2" height="46" fill="#7a7a7a"/>
<rect x="793.0" y="71" width="5.2" height="46" fill="#7a7a7a"/>
<rect x="807.8" y="71" width="5.2" height="46" fill="#7a7a7a"/>
<rect x="822.5" y="71" width="5.2" height="46" fill="#7a7a7a"/>
<rect x="837.2" y="71" width="5.2" height="46" fill="#7a7a7a"/>
<rect x="852.0" y="71" width="5.2" height="46" fill="#7a7a7a"/>
<rect x="766.1" y="75.8" width="88.5" height="4.6" fill="#858585"/><rect x="766.1" y="91.3" width="88.5" height="4.6" fill="#858585"/><rect x="766.1" y="106.8" width="88.5" height="4.6" fill="#858585"/><circle cx="766.1" cy="78.1" r="6.0" fill="#858585"/><circle cx="766.1" cy="78.1" r="4.2" fill="#101010"/><ellipse cx="764.1" cy="76.3" rx="0.90" ry="1.10" fill="#fff"/><ellipse cx="764.1" cy="79.9" rx="0.90" ry="1.10" fill="#fff"/><ellipse cx="768.1" cy="76.3" rx="0.90" ry="1.10" fill="#fff"/><ellipse cx="768.1" cy="79.9" rx="0.90" ry="1.10" fill="#fff"/><circle cx="780.9" cy="78.1" r="6.0" fill="#858585"/><circle cx="780.9" cy="78.1" r="4.2" fill="#101010"/><ellipse cx="778.9" cy="76.3" rx="0.90" ry="1.10" fill="#fff"/><ellipse cx="778.9" cy="79.9" rx="0.90" ry="1.10" fill="#fff"/><ellipse cx="782.9" cy="76.3" rx="0.90" ry="1.10" fill="#fff"/><ellipse cx="782.9" cy="79.9" rx="0.90" ry="1.10" fill="#fff"/><circle cx="795.6" cy="78.1" r="6.0" fill="#858585"/><circle cx="795.6" cy="78.1" r="4.2" fill="#101010"/><ellipse cx="793.6" cy="76.3" rx="0.90" ry="1.10" fill="#fff"/><ellipse cx="793.6" cy="79.9" rx="0.90" ry="1.10" fill="#fff"/><ellipse cx="797.6" cy="76.3" rx="0.90" ry="1.10" fill="#fff"/><ellipse cx="797.6" cy="79.9" rx="0.90" ry="1.10" fill="#fff"/><circle cx="810.4" cy="78.1" r="6.0" fill="#858585"/><circle cx="810.4" cy="78.1" r="4.2" fill="#101010"/><ellipse cx="808.4" cy="76.3" rx="0.90" ry="1.10" fill="#fff"/><ellipse cx="808.4" cy="79.9" rx="0.90" ry="1.10" fill="#fff"/><ellipse cx="812.4" cy="76.3" rx="0.90" ry="1.10" fill="#fff"/><ellipse cx="812.4" cy="79.9" rx="0.90" ry="1.10" fill="#fff"/><circle cx="825.1" cy="78.1" r="6.0" fill="#858585"/><circle cx="825.1" cy="78.1" r="4.2" fill="#101010"/><ellipse cx="823.1" cy="76.3" rx="0.90" ry="1.10" fill="#fff"/><ellipse cx="823.1" cy="79.9" rx="0.90" ry="1.10" fill="#fff"/><ellipse cx="827.1" cy="76.3" rx="0.90" ry="1.10" fill="#fff"/><ellipse cx="827.1" cy="79.9" rx="0.90" ry="1.10" fill="#fff"/><circle cx="839.9" cy="78.1" r="6.0" fill="#858585"/><circle cx="839.9" cy="78.1" r="4.2" fill="#101010"/><ellipse cx="837.9" cy="76.3" rx="0.90" ry="1.10" fill="#fff"/><ellipse cx="837.9" cy="79.9" rx="0.90" ry="1.10" fill="#fff"/><ellipse cx="841.9" cy="76.3" rx="0.90" ry="1.10" fill="#fff"/><ellipse cx="841.9" cy="79.9" rx="0.90" ry="1.10" fill="#fff"/><circle cx="854.6" cy="78.1" r="6.0" fill="#858585"/><circle cx="854.6" cy="78.1" r="4.2" fill="#101010"/><ellipse cx="852.6" cy="76.3" rx="0.90" ry="1.10" fill="#fff"/><ellipse cx="852.6" cy="79.9" rx="0.90" ry="1.10" fill="#fff"/><ellipse cx="856.6" cy="76.3" rx="0.90" ry="1.10" fill="#fff"/><ellipse cx="856.6" cy="79.9" rx="0.90" ry="1.10" fill="#fff"/><circle cx="766.1" cy="93.6" r="6.0" fill="#858585"/><circle cx="766.1" cy="93.6" r="4.2" fill="#101010"/><ellipse cx="764.1" cy="91.8" rx="0.90" ry="1.10" fill="#fff"/><ellipse cx="764.1" cy="95.4" rx="0.90" ry="1.10" fill="#fff"/><ellipse cx="768.1" cy="91.8" rx="0.90" ry="1.10" fill="#fff"/><ellipse cx="768.1" cy="95.4" rx="0.90" ry="1.10" fill="#fff"/><circle cx="780.9" cy="93.6" r="6.0" fill="#858585"/><circle cx="780.9" cy="93.6" r="4.2" fill="#101010"/><ellipse cx="778.9" cy="91.8" rx="0.90" ry="1.10" fill="#fff"/><ellipse cx="778.9" cy="95.4" rx="0.90" ry="1.10" fill="#fff"/><ellipse cx="782.9" cy="91.8" rx="0.90" ry="1.10" fill="#fff"/><ellipse cx="782.9" cy="95.4" rx="0.90" ry="1.10" fill="#fff"/><circle cx="795.6" cy="93.6" r="6.0" fill="#858585"/><circle cx="795.6" cy="93.6" r="4.2" fill="#101010"/><ellipse cx="793.6" cy="91.8" rx="0.90" ry="1.10" fill="#fff"/><ellipse cx="793.6" cy="95.4" rx="0.90" ry="1.10" fill="#fff"/><ellipse cx="797.6" cy="91.8" rx="0.90" ry="1.10" fill="#fff"/><ellipse cx="797.6" cy="95.4" rx="0.90" ry="1.10" fill="#fff"/><circle cx="810.4" cy="93.6" r="6.0" fill="#858585"/><circle cx="810.4" cy="93.6" r="4.2" fill="#101010"/><ellipse cx="808.4" cy="91.8" rx="0.90" ry="1.10" fill="#fff"/><ellipse cx="808.4" cy="95.4" rx="0.90" ry="1.10" fill="#fff"/><ellipse cx="812.4" cy="91.8" rx="0.90" ry="1.10" fill="#fff"/><ellipse cx="812.4" cy="95.4" rx="0.90" ry="1.10" fill="#fff"/><circle cx="825.1" cy="93.6" r="6.0" fill="#858585"/><circle cx="825.1" cy="93.6" r="4.2" fill="#101010"/><ellipse cx="823.1" cy="91.8" rx="0.90" ry="1.10" fill="#fff"/><ellipse cx="823.1" cy="95.4" rx="0.90" ry="1.10" fill="#fff"/><ellipse cx="827.1" cy="91.8" rx="0.90" ry="1.10" fill="#fff"/><ellipse cx="827.1" cy="95.4" rx="0.90" ry="1.10" fill="#fff"/><circle cx="839.9" cy="93.6" r="6.0" fill="#858585"/><circle cx="839.9" cy="93.6" r="4.2" fill="#101010"/><ellipse cx="837.9" cy="91.8" rx="0.90" ry="1.10" fill="#fff"/><ellipse cx="837.9" cy="95.4" rx="0.90" ry="1.10" fill="#fff"/><ellipse cx="841.9" cy="91.8" rx="0.90" ry="1.10" fill="#fff"/><ellipse cx="841.9" cy="95.4" rx="0.90" ry="1.10" fill="#fff"/><circle cx="854.6" cy="93.6" r="6.0" fill="#858585"/><circle cx="854.6" cy="93.6" r="4.2" fill="#101010"/><ellipse cx="852.6" cy="91.8" rx="0.90" ry="1.10" fill="#fff"/><ellipse cx="852.6" cy="95.4" rx="0.90" ry="1.10" fill="#fff"/><ellipse cx="856.6" cy="91.8" rx="0.90" ry="1.10" fill="#fff"/><ellipse cx="856.6" cy="95.4" rx="0.90" ry="1.10" fill="#fff"/><circle cx="766.1" cy="109.1" r="6.0" fill="#858585"/><circle cx="766.1" cy="109.1" r="4.2" fill="#101010"/><ellipse cx="764.1" cy="107.3" rx="0.90" ry="1.10" fill="#fff"/><ellipse cx="764.1" cy="110.9" rx="0.90" ry="1.10" fill="#fff"/><ellipse cx="768.1" cy="107.3" rx="0.90" ry="1.10" fill="#fff"/><ellipse cx="768.1" cy="110.9" rx="0.90" ry="1.10" fill="#fff"/><circle cx="780.9" cy="109.1" r="6.0" fill="#858585"/><circle cx="780.9" cy="109.1" r="4.2" fill="#101010"/><ellipse cx="778.9" cy="107.3" rx="0.90" ry="1.10" fill="#fff"/><ellipse cx="778.9" cy="110.9" rx="0.90" ry="1.10" fill="#fff"/><ellipse cx="782.9" cy="107.3" rx="0.90" ry="1.10" fill="#fff"/><ellipse cx="782.9" cy="110.9" rx="0.90" ry="1.10" fill="#fff"/><circle cx="795.6" cy="109.1" r="6.0" fill="#858585"/><circle cx="795.6" cy="109.1" r="4.2" fill="#101010"/><ellipse cx="793.6" cy="107.3" rx="0.90" ry="1.10" fill="#fff"/><ellipse cx="793.6" cy="110.9" rx="0.90" ry="1.10" fill="#fff"/><ellipse cx="797.6" cy="107.3" rx="0.90" ry="1.10" fill="#fff"/><ellipse cx="797.6" cy="110.9" rx="0.90" ry="1.10" fill="#fff"/><circle cx="810.4" cy="109.1" r="6.0" fill="#858585"/><circle cx="810.4" cy="109.1" r="4.2" fill="#101010"/><ellipse cx="808.4" cy="107.3" rx="0.90" ry="1.10" fill="#fff"/><ellipse cx="808.4" cy="110.9" rx="0.90" ry="1.10" fill="#fff"/><ellipse cx="812.4" cy="107.3" rx="0.90" ry="1.10" fill="#fff"/><ellipse cx="812.4" cy="110.9" rx="0.90" ry="1.10" fill="#fff"/><circle cx="825.1" cy="109.1" r="6.0" fill="#858585"/><circle cx="825.1" cy="109.1" r="4.2" fill="#101010"/><ellipse cx="823.1" cy="107.3" rx="0.90" ry="1.10" fill="#fff"/><ellipse cx="823.1" cy="110.9" rx="0.90" ry="1.10" fill="#fff"/><ellipse cx="827.1" cy="107.3" rx="0.90" ry="1.10" fill="#fff"/><ellipse cx="827.1" cy="110.9" rx="0.90" ry="1.10" fill="#fff"/><circle cx="839.9" cy="109.1" r="6.0" fill="#858585"/><circle cx="839.9" cy="109.1" r="4.2" fill="#101010"/><ellipse cx="837.9" cy="107.3" rx="0.90" ry="1.10" fill="#fff"/><ellipse cx="837.9" cy="110.9" rx="0.90" ry="1.10" fill="#fff"/><ellipse cx="841.9" cy="107.3" rx="0.90" ry="1.10" fill="#fff"/><ellipse cx="841.9" cy="110.9" rx="0.90" ry="1.10" fill="#fff"/><circle cx="854.6" cy="109.1" r="6.0" fill="#858585"/><circle cx="854.6" cy="109.1" r="4.2" fill="#101010"/><ellipse cx="852.6" cy="107.3" rx="0.90" ry="1.10" fill="#fff"/><ellipse cx="852.6" cy="110.9" rx="0.90" ry="1.10" fill="#fff"/><ellipse cx="856.6" cy="107.3" rx="0.90" ry="1.10" fill="#fff"/><ellipse cx="856.6" cy="110.9" rx="0.90" ry="1.10" fill="#fff"/>
<path d="M864,71.1 C870.5,72.1 870.5,84.1 864,85.1" fill="none" stroke="#000" stroke-width="1"/>
<path d="M864,86.6 C870.5,87.6 870.5,99.6 864,100.6" fill="none" stroke="#000" stroke-width="1"/>
<path d="M864,102.1 C870.5,103.1 870.5,115.1 864,116.1" fill="none" stroke="#000" stroke-width="1"/>
<circle cx="745" cy="82" r="1.5" fill="#222"/><rect x="754.5" y="80.2" width="2.5" height="3.6" fill="#222"/>
<circle cx="745" cy="93.9" r="1.5" fill="#222"/><rect x="754.5" y="92.1" width="2.5" height="3.6" fill="#222"/>
<circle cx="745" cy="106" r="1.5" fill="#222"/><rect x="754.5" y="104.2" width="2.5" height="3.6" fill="#222"/>
<rect x="762.2" y="57.4" width="2.8" height="5.6" fill="#111"/>
<rect x="824.6" y="57.4" width="2.8" height="5.6" fill="#111"/>
<rect x="762.2" y="124.8" width="2.8" height="5.6" fill="#111"/>
<rect x="824.6" y="124.8" width="2.8" height="5.6" fill="#111"/>
<rect x="873.6" y="57.6" width="2.8" height="5.6" fill="#111"/>
<rect x="873.6" y="124.6" width="2.8" height="5.6" fill="#111"/>
<g stroke="#000" fill="none" stroke-width="1.2"><path d="M879.4,67.3 C910,67.1 940,68 960,69.5 C970,70.5 978,72 982.5,75.5"/><path d="M879.4,120.5 C910,120.7 940,119.8 960,118.3 C970,117.3 978,115.8 982.5,112.3"/><path d="M879.4,69.3 C905,69.8 925,71.5 943,74.8"/><path d="M879.4,118.5 C905,118 925,116.3 943,113"/><path d="M879.7,76.6 L926,81 C930,81.5 932.5,84 932.5,88 V100 C932.5,104 930,106.5 926,107 L879.7,111.2" stroke-width="2"/><path d="M880,78.5 L925,82.7 C928.5,83.2 930.5,85 930.5,88.5 V99.5 C930.5,103 928.5,104.8 925,105.3 L880,109.4" stroke-width="0.8"/><path d="M927.8,57.4 C931,60 934,64 936.6,67.8 M927.8,130.4 C931,127.8 934,123.8 936.6,120"/><path d="M932.5,94 H943"/></g>
<rect x="892.5" y="84.3" width="3.2" height="5.2" fill="#111"/>
<rect x="899.8" y="84.3" width="3.2" height="5.2" fill="#111"/>
<rect x="906.3" y="84.3" width="3.2" height="5.2" fill="#111"/>
<rect x="892.5" y="98.1" width="3.2" height="5.2" fill="#111"/>
<rect x="899.8" y="98.1" width="3.2" height="5.2" fill="#111"/>
<rect x="906.3" y="98.1" width="3.2" height="5.2" fill="#111"/>
<rect x="923" y="60.6" width="2.6" height="5.4" fill="none" stroke="#111" stroke-width="1"/><rect x="923" y="122.2" width="2.6" height="5.4" fill="none" stroke="#111" stroke-width="1"/>
<rect x="938.4" y="78.4" width="2.4" height="2.4" fill="none" stroke="#222" stroke-width="0.9"/>
<rect x="939.0" y="84.6" width="2.4" height="2.4" fill="none" stroke="#222" stroke-width="0.9"/>
<rect x="939.0" y="100.8" width="2.4" height="2.4" fill="none" stroke="#222" stroke-width="0.9"/>
<rect x="938.4" y="107.0" width="2.4" height="2.4" fill="none" stroke="#222" stroke-width="0.9"/>
<g stroke="#000" fill="none"><rect x="943.8" y="75.9" width="31" height="35.8" stroke-width="1.4"/><path d="M945,75.9 V111.7" stroke-width="2.2"/><path d="M946.5,78 C960,81 966,88 966,93.8 C966,99.6 960,106.6 946.5,109.6" stroke-width="1.1"/><path d="M953,79 C963,82 967,88 973.5,91 M953,108.5 C963,105.5 967,99.5 973.5,96.5" stroke-width="0.9"/><path d="M948,110.3 H973" stroke-width="2"/><rect x="975.6" y="76.2" width="33.5" height="34.6" fill="#fff" stroke="none"/><rect x="977" y="76.8" width="31.6" height="10.8" stroke-width="1.8"/><rect x="977" y="96.6" width="31.6" height="13.7" stroke-width="1.8"/><path d="M979,78.8 H994 M979,98.5 H994" stroke="#888" stroke-width="0.8"/><path d="M995.5,76.8 V110.3 M997.1,76.8 V110.3" stroke-width="1.1"/><path d="M974.2,75.9 V111.7" stroke-width="1.6"/></g>
<circle cx="975.5" cy="92.8" r="3.4" fill="#111"/><circle cx="996.2" cy="92.8" r="3.4" fill="#111"/>
<path d="M732.3,232.8 C734,227.8 743,223.6 757.3,222.3 L880,209.3 C900,207 915,205.7 930,205.7 C950,205.7 965,207 973.5,208.5 C978,209.5 981.5,212 981.5,214 C983,217 983.8,221 983.8,224 L982.5,237.7 L973.9,239.8 L942.6,251.2 C935,248 928,244 922.7,242 L880,241.5 H757.3 C745,241.3 738,240 732.3,238.7Z" fill="#fff" stroke="#000" stroke-width="1.4"/>
<g stroke="#000" fill="none"><path d="M732.3,233.1 H982" stroke-width="1.4" stroke="#555"/><path d="M732.3,238.4 H982" stroke-width="1.5"/><path d="M757.6,222.3 V241.5 M880,209.3 V241.5" stroke-width="1.1"/><path d="M880,209.4 C895,209.3 908,209.6 916,210.8 C924,212.5 929,218 932,223 C934.5,227 936,230 937.3,233.1" stroke-width="1.2"/><path d="M890,208.3 C910,206.8 925,206.2 935,206.5 C950,207.5 965,210 975,213.5 C978,215 979.5,218 980,222 C980.3,228 980.5,233 980.8,237.7" stroke-width="1"/><path d="M900,207.5 C920,206.5 935,206.3 950,207.5 C962,208.8 972,210.5 977,212.5" stroke-width="0.8"/><path d="M896.4,233.1 V238 M929,233.1 V238" stroke-width="1"/><path d="M900,233.3 H928" stroke-width="0.9" stroke-dasharray="1.2 2.8" stroke="#555"/><path d="M880,239.8 C905,240.2 925,240 935,238.6" stroke-width="1"/><path d="M944,249.8 L973,239" stroke-width="1"/><path d="M953.9,247.6 L964,256 M957.5,246 L967.5,254.5" stroke-width="0.9" stroke="#777"/></g>
<path d="M778.3,221.3 A2.5,2.5 0 1 0 783.3,220.8" fill="none" stroke="#000" stroke-width="1.2"/>
<ellipse cx="886.5" cy="216" rx="1.8" ry="3.2" fill="none" stroke="#000" stroke-width="1.3"/>
<rect x="758.5" y="241.5" width="104.1" height="3.2" fill="#8a8a8a"/><rect x="758.8" y="244.1" width="103.5" height="2.0" fill="#111"/><ellipse cx="763.0" cy="245.8" rx="3.0" ry="1.2" fill="#111"/><ellipse cx="768.9" cy="245.8" rx="3.0" ry="1.2" fill="#111"/><path d="M764.3,243.4 L765.9,242.1 L767.5,243.4Z" fill="#1a1a1a"/><rect x="760.3" y="242.3" width="1.3" height="1.3" fill="#f2f2f2"/><rect x="770.4" y="242.3" width="1.3" height="1.3" fill="#f2f2f2"/><ellipse cx="777.8" cy="245.8" rx="3.0" ry="1.2" fill="#111"/><ellipse cx="783.8" cy="245.8" rx="3.0" ry="1.2" fill="#111"/><path d="M779.2,243.4 L780.8,242.1 L782.4,243.4Z" fill="#1a1a1a"/><rect x="775.2" y="242.3" width="1.3" height="1.3" fill="#f2f2f2"/><rect x="785.3" y="242.3" width="1.3" height="1.3" fill="#f2f2f2"/><ellipse cx="792.7" cy="245.8" rx="3.0" ry="1.2" fill="#111"/><ellipse cx="798.6" cy="245.8" rx="3.0" ry="1.2" fill="#111"/><path d="M794.1,243.4 L795.7,242.1 L797.3,243.4Z" fill="#1a1a1a"/><rect x="790.0" y="242.3" width="1.3" height="1.3" fill="#f2f2f2"/><rect x="800.1" y="242.3" width="1.3" height="1.3" fill="#f2f2f2"/><ellipse cx="807.6" cy="245.8" rx="3.0" ry="1.2" fill="#111"/><ellipse cx="813.5" cy="245.8" rx="3.0" ry="1.2" fill="#111"/><path d="M808.9,243.4 L810.5,242.1 L812.1,243.4Z" fill="#1a1a1a"/><rect x="804.9" y="242.3" width="1.3" height="1.3" fill="#f2f2f2"/><rect x="815.0" y="242.3" width="1.3" height="1.3" fill="#f2f2f2"/><ellipse cx="822.4" cy="245.8" rx="3.0" ry="1.2" fill="#111"/><ellipse cx="828.4" cy="245.8" rx="3.0" ry="1.2" fill="#111"/><path d="M823.8,243.4 L825.4,242.1 L827.0,243.4Z" fill="#1a1a1a"/><rect x="819.8" y="242.3" width="1.3" height="1.3" fill="#f2f2f2"/><rect x="829.9" y="242.3" width="1.3" height="1.3" fill="#f2f2f2"/><ellipse cx="837.3" cy="245.8" rx="3.0" ry="1.2" fill="#111"/><ellipse cx="843.3" cy="245.8" rx="3.0" ry="1.2" fill="#111"/><path d="M838.7,243.4 L840.3,242.1 L841.9,243.4Z" fill="#1a1a1a"/><rect x="834.6" y="242.3" width="1.3" height="1.3" fill="#f2f2f2"/><rect x="844.7" y="242.3" width="1.3" height="1.3" fill="#f2f2f2"/><ellipse cx="852.2" cy="245.8" rx="3.0" ry="1.2" fill="#111"/><ellipse cx="858.1" cy="245.8" rx="3.0" ry="1.2" fill="#111"/><path d="M853.6,243.4 L855.2,242.1 L856.8,243.4Z" fill="#1a1a1a"/><rect x="849.5" y="242.3" width="1.3" height="1.3" fill="#f2f2f2"/><rect x="859.6" y="242.3" width="1.3" height="1.3" fill="#f2f2f2"/>
<g stroke="#000" fill="none"><path d="M983.8,222.7 H1009.4 M983.8,256 H1009.4" stroke-width="1.1"/><path d="M983.8,225 H995 M983.8,236 H995" stroke="#999" stroke-width="1"/><rect x="996.6" y="222.7" width="11.4" height="13.6" stroke-width="1.8"/><rect x="996.6" y="240.5" width="11.4" height="14.3" stroke-width="1.8"/><path d="M1009.4,221.8 V256.5" stroke-width="1.2"/><rect x="973.9" y="239.8" width="21.3" height="15" stroke-width="1.3"/><path d="M995.6,239.8 V256" stroke-width="1"/></g>
<rect x="972.5" y="256.5" width="5.6" height="6.2" rx="1" fill="#777" stroke="#111" stroke-width="1"/><rect x="993.8" y="256.5" width="5.6" height="6.2" rx="1" fill="#777" stroke="#111" stroke-width="1"/>
<g stroke="#858585" stroke-width="1.1" fill="none"><path d="M1033.6,205.5 V261.1"/><path d="M965,205.5 H1036"/></g>
<path d="M1033.6,205.5 l-1.3,8 l2.6,0Z" fill="#888"/><path d="M1033.6,261.1 l-1.3,-8 l2.6,0Z" fill="#888"/>
<text transform="translate(1031.5,234.15) rotate(-90) scale(0.775,1)" text-anchor="middle" font-family="Liberation Serif" font-size="16.2" fill="#3c3c3c">135</text>
<g stroke="#858585" stroke-width="1.1" fill="none"><path d="M104.6,432.3 H392.6"/><path d="M104.6,431.4 V508"/><path d="M392.6,431.4 V491"/><path d="M85.2,444.6 V570.8"/><path d="M84.7,444.6 H131.4"/><path d="M84.7,570.8 H131.4"/></g>
<path d="M104.6,432.3 l8,-1.3 l0,2.6Z" fill="#888"/><path d="M392.6,432.3 l-8,-1.3 l0,2.6Z" fill="#888"/><path d="M85.2,444.6 l-1.3,8 l2.6,0Z" fill="#888"/><path d="M85.2,570.8 l-1.3,-8 l2.6,0Z" fill="#888"/>
<text transform="translate(247.9,429.6) scale(0.775,1)" text-anchor="middle" font-family="Liberation Serif" font-size="16.2" fill="#3c3c3c">681</text>
<text transform="translate(83.8,508.4) rotate(-90) scale(0.775,1)" text-anchor="middle" font-family="Liberation Serif" font-size="16.2" fill="#3c3c3c">299</text>
<path d="M131.4,444.8 H260.5 C275,445.3 290,448 304.5,461.3 C312,467 320,474 329.4,478.2 C340,481.5 352,482 361,484 C364,485 365,487 365,490.2 V525.8 C365,529 364,531 361,532 C352,534 340,534.5 329.4,537.8 C320,542 312,549 304.5,554.7 C290,568 275,570.7 260.5,570.8 H131.4 C112,567 104.6,540 104.6,507.8 C104.6,476 112,448 131.4,444.8Z" fill="#fff" stroke="#000" stroke-width="1.7"/>
<path d="M131.4,457.3 C115,458.5 106.8,478 106.8,507.8 C106.8,537 115,556.5 131.4,557.8" fill="none" stroke="#000" stroke-width="1.2"/>
<path d="M131.4,444.8 V458 M131.4,557.5 V570.8 M260.5,444.8 V570.8" stroke="#000" stroke-width="1.1" fill="none"/>
<path d="M128,457.3 H255 C290,457.5 310,465 323,478 M128,557.8 H255 C290,557.6 310,550 323,537" stroke="#000" stroke-width="1.2" fill="none"/>
<rect x="128" y="458" width="108.4" height="49.3" rx="6" fill="#5c5c5c" stroke="#000" stroke-width="1.5"/>
<rect x="128" y="508" width="108.4" height="49.4" rx="6" fill="#5c5c5c" stroke="#000" stroke-width="1.5"/>
<rect x="136.8" y="465.9" width="59.3" height="3.4" fill="#8a8a8a"/><rect x="136.8" y="481.3" width="59.3" height="3.4" fill="#8a8a8a"/><rect x="136.8" y="496.7" width="59.3" height="3.4" fill="#8a8a8a"/><circle cx="136.8" cy="467.6" r="6.0" fill="#8a8a8a"/><circle cx="136.8" cy="467.6" r="4.3" fill="#101010"/><ellipse cx="134.8" cy="465.8" rx="0.85" ry="1.05" fill="#fff"/><ellipse cx="134.8" cy="469.4" rx="0.85" ry="1.05" fill="#fff"/><ellipse cx="138.8" cy="465.8" rx="0.85" ry="1.05" fill="#fff"/><ellipse cx="138.8" cy="469.4" rx="0.85" ry="1.05" fill="#fff"/><circle cx="151.6" cy="467.6" r="6.0" fill="#8a8a8a"/><circle cx="151.6" cy="467.6" r="4.3" fill="#101010"/><ellipse cx="149.6" cy="465.8" rx="0.85" ry="1.05" fill="#fff"/><ellipse cx="149.6" cy="469.4" rx="0.85" ry="1.05" fill="#fff"/><ellipse cx="153.6" cy="465.8" rx="0.85" ry="1.05" fill="#fff"/><ellipse cx="153.6" cy="469.4" rx="0.85" ry="1.05" fill="#fff"/><circle cx="166.4" cy="467.6" r="6.0" fill="#8a8a8a"/><circle cx="166.4" cy="467.6" r="4.3" fill="#101010"/><ellipse cx="164.4" cy="465.8" rx="0.85" ry="1.05" fill="#fff"/><ellipse cx="164.4" cy="469.4" rx="0.85" ry="1.05" fill="#fff"/><ellipse cx="168.4" cy="465.8" rx="0.85" ry="1.05" fill="#fff"/><ellipse cx="168.4" cy="469.4" rx="0.85" ry="1.05" fill="#fff"/><circle cx="181.2" cy="467.6" r="6.0" fill="#8a8a8a"/><circle cx="181.2" cy="467.6" r="4.3" fill="#101010"/><ellipse cx="179.2" cy="465.8" rx="0.85" ry="1.05" fill="#fff"/><ellipse cx="179.2" cy="469.4" rx="0.85" ry="1.05" fill="#fff"/><ellipse cx="183.2" cy="465.8" rx="0.85" ry="1.05" fill="#fff"/><ellipse cx="183.2" cy="469.4" rx="0.85" ry="1.05" fill="#fff"/><circle cx="196.1" cy="467.6" r="6.0" fill="#8a8a8a"/><circle cx="196.1" cy="467.6" r="4.3" fill="#101010"/><ellipse cx="194.1" cy="465.8" rx="0.85" ry="1.05" fill="#fff"/><ellipse cx="194.1" cy="469.4" rx="0.85" ry="1.05" fill="#fff"/><ellipse cx="198.1" cy="465.8" rx="0.85" ry="1.05" fill="#fff"/><ellipse cx="198.1" cy="469.4" rx="0.85" ry="1.05" fill="#fff"/><circle cx="136.8" cy="483.0" r="6.0" fill="#8a8a8a"/><circle cx="136.8" cy="483.0" r="4.3" fill="#101010"/><ellipse cx="134.8" cy="481.2" rx="0.85" ry="1.05" fill="#fff"/><ellipse cx="134.8" cy="484.8" rx="0.85" ry="1.05" fill="#fff"/><ellipse cx="138.8" cy="481.2" rx="0.85" ry="1.05" fill="#fff"/><ellipse cx="138.8" cy="484.8" rx="0.85" ry="1.05" fill="#fff"/><circle cx="151.6" cy="483.0" r="6.0" fill="#8a8a8a"/><circle cx="151.6" cy="483.0" r="4.3" fill="#101010"/><ellipse cx="149.6" cy="481.2" rx="0.85" ry="1.05" fill="#fff"/><ellipse cx="149.6" cy="484.8" rx="0.85" ry="1.05" fill="#fff"/><ellipse cx="153.6" cy="481.2" rx="0.85" ry="1.05" fill="#fff"/><ellipse cx="153.6" cy="484.8" rx="0.85" ry="1.05" fill="#fff"/><circle cx="166.4" cy="483.0" r="6.0" fill="#8a8a8a"/><circle cx="166.4" cy="483.0" r="4.3" fill="#101010"/><ellipse cx="164.4" cy="481.2" rx="0.85" ry="1.05" fill="#fff"/><ellipse cx="164.4" cy="484.8" rx="0.85" ry="1.05" fill="#fff"/><ellipse cx="168.4" cy="481.2" rx="0.85" ry="1.05" fill="#fff"/><ellipse cx="168.4" cy="484.8" rx="0.85" ry="1.05" fill="#fff"/><circle cx="181.2" cy="483.0" r="6.0" fill="#8a8a8a"/><circle cx="181.2" cy="483.0" r="4.3" fill="#101010"/><ellipse cx="179.2" cy="481.2" rx="0.85" ry="1.05" fill="#fff"/><ellipse cx="179.2" cy="484.8" rx="0.85" ry="1.05" fill="#fff"/><ellipse cx="183.2" cy="481.2" rx="0.85" ry="1.05" fill="#fff"/><ellipse cx="183.2" cy="484.8" rx="0.85" ry="1.05" fill="#fff"/><circle cx="196.1" cy="483.0" r="6.0" fill="#8a8a8a"/><circle cx="196.1" cy="483.0" r="4.3" fill="#101010"/><ellipse cx="194.1" cy="481.2" rx="0.85" ry="1.05" fill="#fff"/><ellipse cx="194.1" cy="484.8" rx="0.85" ry="1.05" fill="#fff"/><ellipse cx="198.1" cy="481.2" rx="0.85" ry="1.05" fill="#fff"/><ellipse cx="198.1" cy="484.8" rx="0.85" ry="1.05" fill="#fff"/><circle cx="136.8" cy="498.4" r="6.0" fill="#8a8a8a"/><circle cx="136.8" cy="498.4" r="4.3" fill="#101010"/><ellipse cx="134.8" cy="496.6" rx="0.85" ry="1.05" fill="#fff"/><ellipse cx="134.8" cy="500.2" rx="0.85" ry="1.05" fill="#fff"/><ellipse cx="138.8" cy="496.6" rx="0.85" ry="1.05" fill="#fff"/><ellipse cx="138.8" cy="500.2" rx="0.85" ry="1.05" fill="#fff"/><circle cx="151.6" cy="498.4" r="6.0" fill="#8a8a8a"/><circle cx="151.6" cy="498.4" r="4.3" fill="#101010"/><ellipse cx="149.6" cy="496.6" rx="0.85" ry="1.05" fill="#fff"/><ellipse cx="149.6" cy="500.2" rx="0.85" ry="1.05" fill="#fff"/><ellipse cx="153.6" cy="496.6" rx="0.85" ry="1.05" fill="#fff"/><ellipse cx="153.6" cy="500.2" rx="0.85" ry="1.05" fill="#fff"/><circle cx="166.4" cy="498.4" r="6.0" fill="#8a8a8a"/><circle cx="166.4" cy="498.4" r="4.3" fill="#101010"/><ellipse cx="164.4" cy="496.6" rx="0.85" ry="1.05" fill="#fff"/><ellipse cx="164.4" cy="500.2" rx="0.85" ry="1.05" fill="#fff"/><ellipse cx="168.4" cy="496.6" rx="0.85" ry="1.05" fill="#fff"/><ellipse cx="168.4" cy="500.2" rx="0.85" ry="1.05" fill="#fff"/><circle cx="181.2" cy="498.4" r="6.0" fill="#8a8a8a"/><circle cx="181.2" cy="498.4" r="4.3" fill="#101010"/><ellipse cx="179.2" cy="496.6" rx="0.85" ry="1.05" fill="#fff"/><ellipse cx="179.2" cy="500.2" rx="0.85" ry="1.05" fill="#fff"/><ellipse cx="183.2" cy="496.6" rx="0.85" ry="1.05" fill="#fff"/><ellipse cx="183.2" cy="500.2" rx="0.85" ry="1.05" fill="#fff"/><circle cx="196.1" cy="498.4" r="6.0" fill="#8a8a8a"/><circle cx="196.1" cy="498.4" r="4.3" fill="#101010"/><ellipse cx="194.1" cy="496.6" rx="0.85" ry="1.05" fill="#fff"/><ellipse cx="194.1" cy="500.2" rx="0.85" ry="1.05" fill="#fff"/><ellipse cx="198.1" cy="496.6" rx="0.85" ry="1.05" fill="#fff"/><ellipse cx="198.1" cy="500.2" rx="0.85" ry="1.05" fill="#fff"/><circle cx="144.2" cy="475.3" r="5.0" fill="#0c0c0c"/><path d="M141.2,474.9 Q143.9,474.2 144.2,471.6 Q144.5,474.2 147.2,474.9Z" fill="#f4f4f4"/><path d="M141.6,475.9 Q143.9,476.7 144.2,478.9 Q144.5,476.7 146.8,475.9Z" fill="#e4e4e4"/><circle cx="159.0" cy="475.3" r="5.0" fill="#0c0c0c"/><path d="M156.0,474.9 Q158.7,474.2 159.0,471.6 Q159.3,474.2 162.0,474.9Z" fill="#f4f4f4"/><path d="M156.4,475.9 Q158.7,476.7 159.0,478.9 Q159.3,476.7 161.6,475.9Z" fill="#e4e4e4"/><circle cx="173.8" cy="475.3" r="5.0" fill="#0c0c0c"/><path d="M170.8,474.9 Q173.5,474.2 173.8,471.6 Q174.1,474.2 176.8,474.9Z" fill="#f4f4f4"/><path d="M171.2,475.9 Q173.5,476.7 173.8,478.9 Q174.1,476.7 176.4,475.9Z" fill="#e4e4e4"/><circle cx="188.6" cy="475.3" r="5.0" fill="#0c0c0c"/><path d="M185.6,474.9 Q188.3,474.2 188.6,471.6 Q188.9,474.2 191.6,474.9Z" fill="#f4f4f4"/><path d="M186.1,475.9 Q188.3,476.7 188.6,478.9 Q188.9,476.7 191.2,475.9Z" fill="#e4e4e4"/><circle cx="144.2" cy="490.7" r="5.0" fill="#0c0c0c"/><path d="M141.2,490.3 Q143.9,489.6 144.2,486.9 Q144.5,489.6 147.2,490.3Z" fill="#f4f4f4"/><path d="M141.6,491.3 Q143.9,492.1 144.2,494.3 Q144.5,492.1 146.8,491.3Z" fill="#e4e4e4"/><circle cx="159.0" cy="490.7" r="5.0" fill="#0c0c0c"/><path d="M156.0,490.3 Q158.7,489.6 159.0,486.9 Q159.3,489.6 162.0,490.3Z" fill="#f4f4f4"/><path d="M156.4,491.3 Q158.7,492.1 159.0,494.3 Q159.3,492.1 161.6,491.3Z" fill="#e4e4e4"/><circle cx="173.8" cy="490.7" r="5.0" fill="#0c0c0c"/><path d="M170.8,490.3 Q173.5,489.6 173.8,486.9 Q174.1,489.6 176.8,490.3Z" fill="#f4f4f4"/><path d="M171.2,491.3 Q173.5,492.1 173.8,494.3 Q174.1,492.1 176.4,491.3Z" fill="#e4e4e4"/><circle cx="188.6" cy="490.7" r="5.0" fill="#0c0c0c"/><path d="M185.6,490.3 Q188.3,489.6 188.6,486.9 Q188.9,489.6 191.6,490.3Z" fill="#f4f4f4"/><path d="M186.1,491.3 Q188.3,492.1 188.6,494.3 Q188.9,492.1 191.2,491.3Z" fill="#e4e4e4"/><rect x="210.8" y="465.9" width="15.2" height="3.4" fill="#8a8a8a"/><rect x="210.8" y="481.3" width="15.2" height="3.4" fill="#8a8a8a"/><rect x="210.8" y="496.7" width="15.2" height="3.4" fill="#8a8a8a"/><circle cx="210.8" cy="467.6" r="6.0" fill="#8a8a8a"/><circle cx="210.8" cy="467.6" r="4.3" fill="#101010"/><ellipse cx="208.8" cy="465.8" rx="0.85" ry="1.05" fill="#fff"/><ellipse cx="208.8" cy="469.4" rx="0.85" ry="1.05" fill="#fff"/><ellipse cx="212.8" cy="465.8" rx="0.85" ry="1.05" fill="#fff"/><ellipse cx="212.8" cy="469.4" rx="0.85" ry="1.05" fill="#fff"/><circle cx="226.0" cy="467.6" r="6.0" fill="#8a8a8a"/><circle cx="226.0" cy="467.6" r="4.3" fill="#101010"/><ellipse cx="224.0" cy="465.8" rx="0.85" ry="1.05" fill="#fff"/><ellipse cx="224.0" cy="469.4" rx="0.85" ry="1.05" fill="#fff"/><ellipse cx="228.0" cy="465.8" rx="0.85" ry="1.05" fill="#fff"/><ellipse cx="228.0" cy="469.4" rx="0.85" ry="1.05" fill="#fff"/><circle cx="210.8" cy="483.0" r="6.0" fill="#8a8a8a"/><circle cx="210.8" cy="483.0" r="4.3" fill="#101010"/><ellipse cx="208.8" cy="481.2" rx="0.85" ry="1.05" fill="#fff"/><ellipse cx="208.8" cy="484.8" rx="0.85" ry="1.05" fill="#fff"/><ellipse cx="212.8" cy="481.2" rx="0.85" ry="1.05" fill="#fff"/><ellipse cx="212.8" cy="484.8" rx="0.85" ry="1.05" fill="#fff"/><circle cx="226.0" cy="483.0" r="6.0" fill="#8a8a8a"/><circle cx="226.0" cy="483.0" r="4.3" fill="#101010"/><ellipse cx="224.0" cy="481.2" rx="0.85" ry="1.05" fill="#fff"/><ellipse cx="224.0" cy="484.8" rx="0.85" ry="1.05" fill="#fff"/><ellipse cx="228.0" cy="481.2" rx="0.85" ry="1.05" fill="#fff"/><ellipse cx="228.0" cy="484.8" rx="0.85" ry="1.05" fill="#fff"/><circle cx="210.8" cy="498.4" r="6.0" fill="#8a8a8a"/><circle cx="210.8" cy="498.4" r="4.3" fill="#101010"/><ellipse cx="208.8" cy="496.6" rx="0.85" ry="1.05" fill="#fff"/><ellipse cx="208.8" cy="500.2" rx="0.85" ry="1.05" fill="#fff"/><ellipse cx="212.8" cy="496.6" rx="0.85" ry="1.05" fill="#fff"/><ellipse cx="212.8" cy="500.2" rx="0.85" ry="1.05" fill="#fff"/><circle cx="226.0" cy="498.4" r="6.0" fill="#8a8a8a"/><circle cx="226.0" cy="498.4" r="4.3" fill="#101010"/><ellipse cx="224.0" cy="496.6" rx="0.85" ry="1.05" fill="#fff"/><ellipse cx="224.0" cy="500.2" rx="0.85" ry="1.05" fill="#fff"/><ellipse cx="228.0" cy="496.6" rx="0.85" ry="1.05" fill="#fff"/><ellipse cx="228.0" cy="500.2" rx="0.85" ry="1.05" fill="#fff"/><circle cx="218.4" cy="475.3" r="5.0" fill="#0c0c0c"/><path d="M215.4,474.9 Q218.1,474.2 218.4,471.6 Q218.7,474.2 221.4,474.9Z" fill="#f4f4f4"/><path d="M215.8,475.9 Q218.1,476.7 218.4,478.9 Q218.7,476.7 221.0,475.9Z" fill="#e4e4e4"/><circle cx="218.4" cy="490.7" r="5.0" fill="#0c0c0c"/><path d="M215.4,490.3 Q218.1,489.6 218.4,486.9 Q218.7,489.6 221.4,490.3Z" fill="#f4f4f4"/><path d="M215.8,491.3 Q218.1,492.1 218.4,494.3 Q218.7,492.1 221.0,491.3Z" fill="#e4e4e4"/>
<rect x="136.8" y="515.0" width="59.3" height="3.4" fill="#8a8a8a"/><rect x="136.8" y="530.6" width="59.3" height="3.4" fill="#8a8a8a"/><rect x="136.8" y="546.3" width="59.3" height="3.4" fill="#8a8a8a"/><circle cx="136.8" cy="516.7" r="6.0" fill="#8a8a8a"/><circle cx="136.8" cy="516.7" r="4.3" fill="#101010"/><ellipse cx="134.8" cy="514.9" rx="0.85" ry="1.05" fill="#fff"/><ellipse cx="134.8" cy="518.5" rx="0.85" ry="1.05" fill="#fff"/><ellipse cx="138.8" cy="514.9" rx="0.85" ry="1.05" fill="#fff"/><ellipse cx="138.8" cy="518.5" rx="0.85" ry="1.05" fill="#fff"/><circle cx="151.6" cy="516.7" r="6.0" fill="#8a8a8a"/><circle cx="151.6" cy="516.7" r="4.3" fill="#101010"/><ellipse cx="149.6" cy="514.9" rx="0.85" ry="1.05" fill="#fff"/><ellipse cx="149.6" cy="518.5" rx="0.85" ry="1.05" fill="#fff"/><ellipse cx="153.6" cy="514.9" rx="0.85" ry="1.05" fill="#fff"/><ellipse cx="153.6" cy="518.5" rx="0.85" ry="1.05" fill="#fff"/><circle cx="166.4" cy="516.7" r="6.0" fill="#8a8a8a"/><circle cx="166.4" cy="516.7" r="4.3" fill="#101010"/><ellipse cx="164.4" cy="514.9" rx="0.85" ry="1.05" fill="#fff"/><ellipse cx="164.4" cy="518.5" rx="0.85" ry="1.05" fill="#fff"/><ellipse cx="168.4" cy="514.9" rx="0.85" ry="1.05" fill="#fff"/><ellipse cx="168.4" cy="518.5" rx="0.85" ry="1.05" fill="#fff"/><circle cx="181.2" cy="516.7" r="6.0" fill="#8a8a8a"/><circle cx="181.2" cy="516.7" r="4.3" fill="#101010"/><ellipse cx="179.2" cy="514.9" rx="0.85" ry="1.05" fill="#fff"/><ellipse cx="179.2" cy="518.5" rx="0.85" ry="1.05" fill="#fff"/><ellipse cx="183.2" cy="514.9" rx="0.85" ry="1.05" fill="#fff"/><ellipse cx="183.2" cy="518.5" rx="0.85" ry="1.05" fill="#fff"/><circle cx="196.1" cy="516.7" r="6.0" fill="#8a8a8a"/><circle cx="196.1" cy="516.7" r="4.3" fill="#101010"/><ellipse cx="194.1" cy="514.9" rx="0.85" ry="1.05" fill="#fff"/><ellipse cx="194.1" cy="518.5" rx="0.85" ry="1.05" fill="#fff"/><ellipse cx="198.1" cy="514.9" rx="0.85" ry="1.05" fill="#fff"/><ellipse cx="198.1" cy="518.5" rx="0.85" ry="1.05" fill="#fff"/><circle cx="136.8" cy="532.3" r="6.0" fill="#8a8a8a"/><circle cx="136.8" cy="532.3" r="4.3" fill="#101010"/><ellipse cx="134.8" cy="530.5" rx="0.85" ry="1.05" fill="#fff"/><ellipse cx="134.8" cy="534.1" rx="0.85" ry="1.05" fill="#fff"/><ellipse cx="138.8" cy="530.5" rx="0.85" ry="1.05" fill="#fff"/><ellipse cx="138.8" cy="534.1" rx="0.85" ry="1.05" fill="#fff"/><circle cx="151.6" cy="532.3" r="6.0" fill="#8a8a8a"/><circle cx="151.6" cy="532.3" r="4.3" fill="#101010"/><ellipse cx="149.6" cy="530.5" rx="0.85" ry="1.05" fill="#fff"/><ellipse cx="149.6" cy="534.1" rx="0.85" ry="1.05" fill="#fff"/><ellipse cx="153.6" cy="530.5" rx="0.85" ry="1.05" fill="#fff"/><ellipse cx="153.6" cy="534.1" rx="0.85" ry="1.05" fill="#fff"/><circle cx="166.4" cy="532.3" r="6.0" fill="#8a8a8a"/><circle cx="166.4" cy="532.3" r="4.3" fill="#101010"/><ellipse cx="164.4" cy="530.5" rx="0.85" ry="1.05" fill="#fff"/><ellipse cx="164.4" cy="534.1" rx="0.85" ry="1.05" fill="#fff"/><ellipse cx="168.4" cy="530.5" rx="0.85" ry="1.05" fill="#fff"/><ellipse cx="168.4" cy="534.1" rx="0.85" ry="1.05" fill="#fff"/><circle cx="181.2" cy="532.3" r="6.0" fill="#8a8a8a"/><circle cx="181.2" cy="532.3" r="4.3" fill="#101010"/><ellipse cx="179.2" cy="530.5" rx="0.85" ry="1.05" fill="#fff"/><ellipse cx="179.2" cy="534.1" rx="0.85" ry="1.05" fill="#fff"/><ellipse cx="183.2" cy="530.5" rx="0.85" ry="1.05" fill="#fff"/><ellipse cx="183.2" cy="534.1" rx="0.85" ry="1.05" fill="#fff"/><circle cx="196.1" cy="532.3" r="6.0" fill="#8a8a8a"/><circle cx="196.1" cy="532.3" r="4.3" fill="#101010"/><ellipse cx="194.1" cy="530.5" rx="0.85" ry="1.05" fill="#fff"/><ellipse cx="194.1" cy="534.1" rx="0.85" ry="1.05" fill="#fff"/><ellipse cx="198.1" cy="530.5" rx="0.85" ry="1.05" fill="#fff"/><ellipse cx="198.1" cy="534.1" rx="0.85" ry="1.05" fill="#fff"/><circle cx="136.8" cy="548.0" r="6.0" fill="#8a8a8a"/><circle cx="136.8" cy="548.0" r="4.3" fill="#101010"/><ellipse cx="134.8" cy="546.2" rx="0.85" ry="1.05" fill="#fff"/><ellipse cx="134.8" cy="549.8" rx="0.85" ry="1.05" fill="#fff"/><ellipse cx="138.8" cy="546.2" rx="0.85" ry="1.05" fill="#fff"/><ellipse cx="138.8" cy="549.8" rx="0.85" ry="1.05" fill="#fff"/><circle cx="151.6" cy="548.0" r="6.0" fill="#8a8a8a"/><circle cx="151.6" cy="548.0" r="4.3" fill="#101010"/><ellipse cx="149.6" cy="546.2" rx="0.85" ry="1.05" fill="#fff"/><ellipse cx="149.6" cy="549.8" rx="0.85" ry="1.05" fill="#fff"/><ellipse cx="153.6" cy="546.2" rx="0.85" ry="1.05" fill="#fff"/><ellipse cx="153.6" cy="549.8" rx="0.85" ry="1.05" fill="#fff"/><circle cx="166.4" cy="548.0" r="6.0" fill="#8a8a8a"/><circle cx="166.4" cy="548.0" r="4.3" fill="#101010"/><ellipse cx="164.4" cy="546.2" rx="0.85" ry="1.05" fill="#fff"/><ellipse cx="164.4" cy="549.8" rx="0.85" ry="1.05" fill="#fff"/><ellipse cx="168.4" cy="546.2" rx="0.85" ry="1.05" fill="#fff"/><ellipse cx="168.4" cy="549.8" rx="0.85" ry="1.05" fill="#fff"/><circle cx="181.2" cy="548.0" r="6.0" fill="#8a8a8a"/><circle cx="181.2" cy="548.0" r="4.3" fill="#101010"/><ellipse cx="179.2" cy="546.2" rx="0.85" ry="1.05" fill="#fff"/><ellipse cx="179.2" cy="549.8" rx="0.85" ry="1.05" fill="#fff"/><ellipse cx="183.2" cy="546.2" rx="0.85" ry="1.05" fill="#fff"/><ellipse cx="183.2" cy="549.8" rx="0.85" ry="1.05" fill="#fff"/><circle cx="196.1" cy="548.0" r="6.0" fill="#8a8a8a"/><circle cx="196.1" cy="548.0" r="4.3" fill="#101010"/><ellipse cx="194.1" cy="546.2" rx="0.85" ry="1.05" fill="#fff"/><ellipse cx="194.1" cy="549.8" rx="0.85" ry="1.05" fill="#fff"/><ellipse cx="198.1" cy="546.2" rx="0.85" ry="1.05" fill="#fff"/><ellipse cx="198.1" cy="549.8" rx="0.85" ry="1.05" fill="#fff"/><circle cx="144.2" cy="524.5" r="5.0" fill="#0c0c0c"/><path d="M141.2,524.1 Q143.9,523.5 144.2,520.8 Q144.5,523.5 147.2,524.1Z" fill="#f4f4f4"/><path d="M141.6,525.1 Q143.9,525.9 144.2,528.1 Q144.5,525.9 146.8,525.1Z" fill="#e4e4e4"/><circle cx="159.0" cy="524.5" r="5.0" fill="#0c0c0c"/><path d="M156.0,524.1 Q158.7,523.5 159.0,520.8 Q159.3,523.5 162.0,524.1Z" fill="#f4f4f4"/><path d="M156.4,525.1 Q158.7,525.9 159.0,528.1 Q159.3,525.9 161.6,525.1Z" fill="#e4e4e4"/><circle cx="173.8" cy="524.5" r="5.0" fill="#0c0c0c"/><path d="M170.8,524.1 Q173.5,523.5 173.8,520.8 Q174.1,523.5 176.8,524.1Z" fill="#f4f4f4"/><path d="M171.2,525.1 Q173.5,525.9 173.8,528.1 Q174.1,525.9 176.4,525.1Z" fill="#e4e4e4"/><circle cx="188.6" cy="524.5" r="5.0" fill="#0c0c0c"/><path d="M185.6,524.1 Q188.3,523.5 188.6,520.8 Q188.9,523.5 191.6,524.1Z" fill="#f4f4f4"/><path d="M186.1,525.1 Q188.3,525.9 188.6,528.1 Q188.9,525.9 191.2,525.1Z" fill="#e4e4e4"/><circle cx="144.2" cy="540.1" r="5.0" fill="#0c0c0c"/><path d="M141.2,539.8 Q143.9,539.1 144.2,536.4 Q144.5,539.1 147.2,539.8Z" fill="#f4f4f4"/><path d="M141.6,540.8 Q143.9,541.5 144.2,543.8 Q144.5,541.5 146.8,540.8Z" fill="#e4e4e4"/><circle cx="159.0" cy="540.1" r="5.0" fill="#0c0c0c"/><path d="M156.0,539.8 Q158.7,539.1 159.0,536.4 Q159.3,539.1 162.0,539.8Z" fill="#f4f4f4"/><path d="M156.4,540.8 Q158.7,541.5 159.0,543.8 Q159.3,541.5 161.6,540.8Z" fill="#e4e4e4"/><circle cx="173.8" cy="540.1" r="5.0" fill="#0c0c0c"/><path d="M170.8,539.8 Q173.5,539.1 173.8,536.4 Q174.1,539.1 176.8,539.8Z" fill="#f4f4f4"/><path d="M171.2,540.8 Q173.5,541.5 173.8,543.8 Q174.1,541.5 176.4,540.8Z" fill="#e4e4e4"/><circle cx="188.6" cy="540.1" r="5.0" fill="#0c0c0c"/><path d="M185.6,539.8 Q188.3,539.1 188.6,536.4 Q188.9,539.1 191.6,539.8Z" fill="#f4f4f4"/><path d="M186.1,540.8 Q188.3,541.5 188.6,543.8 Q188.9,541.5 191.2,540.8Z" fill="#e4e4e4"/><rect x="210.8" y="515.0" width="15.2" height="3.4" fill="#8a8a8a"/><rect x="210.8" y="530.6" width="15.2" height="3.4" fill="#8a8a8a"/><rect x="210.8" y="546.3" width="15.2" height="3.4" fill="#8a8a8a"/><circle cx="210.8" cy="516.7" r="6.0" fill="#8a8a8a"/><circle cx="210.8" cy="516.7" r="4.3" fill="#101010"/><ellipse cx="208.8" cy="514.9" rx="0.85" ry="1.05" fill="#fff"/><ellipse cx="208.8" cy="518.5" rx="0.85" ry="1.05" fill="#fff"/><ellipse cx="212.8" cy="514.9" rx="0.85" ry="1.05" fill="#fff"/><ellipse cx="212.8" cy="518.5" rx="0.85" ry="1.05" fill="#fff"/><circle cx="226.0" cy="516.7" r="6.0" fill="#8a8a8a"/><circle cx="226.0" cy="516.7" r="4.3" fill="#101010"/><ellipse cx="224.0" cy="514.9" rx="0.85" ry="1.05" fill="#fff"/><ellipse cx="224.0" cy="518.5" rx="0.85" ry="1.05" fill="#fff"/><ellipse cx="228.0" cy="514.9" rx="0.85" ry="1.05" fill="#fff"/><ellipse cx="228.0" cy="518.5" rx="0.85" ry="1.05" fill="#fff"/><circle cx="210.8" cy="532.3" r="6.0" fill="#8a8a8a"/><circle cx="210.8" cy="532.3" r="4.3" fill="#101010"/><ellipse cx="208.8" cy="530.5" rx="0.85" ry="1.05" fill="#fff"/><ellipse cx="208.8" cy="534.1" rx="0.85" ry="1.05" fill="#fff"/><ellipse cx="212.8" cy="530.5" rx="0.85" ry="1.05" fill="#fff"/><ellipse cx="212.8" cy="534.1" rx="0.85" ry="1.05" fill="#fff"/><circle cx="226.0" cy="532.3" r="6.0" fill="#8a8a8a"/><circle cx="226.0" cy="532.3" r="4.3" fill="#101010"/><ellipse cx="224.0" cy="530.5" rx="0.85" ry="1.05" fill="#fff"/><ellipse cx="224.0" cy="534.1" rx="0.85" ry="1.05" fill="#fff"/><ellipse cx="228.0" cy="530.5" rx="0.85" ry="1.05" fill="#fff"/><ellipse cx="228.0" cy="534.1" rx="0.85" ry="1.05" fill="#fff"/><circle cx="210.8" cy="548.0" r="6.0" fill="#8a8a8a"/><circle cx="210.8" cy="548.0" r="4.3" fill="#101010"/><ellipse cx="208.8" cy="546.2" rx="0.85" ry="1.05" fill="#fff"/><ellipse cx="208.8" cy="549.8" rx="0.85" ry="1.05" fill="#fff"/><ellipse cx="212.8" cy="546.2" rx="0.85" ry="1.05" fill="#fff"/><ellipse cx="212.8" cy="549.8" rx="0.85" ry="1.05" fill="#fff"/><circle cx="226.0" cy="548.0" r="6.0" fill="#8a8a8a"/><circle cx="226.0" cy="548.0" r="4.3" fill="#101010"/><ellipse cx="224.0" cy="546.2" rx="0.85" ry="1.05" fill="#fff"/><ellipse cx="224.0" cy="549.8" rx="0.85" ry="1.05" fill="#fff"/><ellipse cx="228.0" cy="546.2" rx="0.85" ry="1.05" fill="#fff"/><ellipse cx="228.0" cy="549.8" rx="0.85" ry="1.05" fill="#fff"/><circle cx="218.4" cy="524.5" r="5.0" fill="#0c0c0c"/><path d="M215.4,524.1 Q218.1,523.5 218.4,520.8 Q218.7,523.5 221.4,524.1Z" fill="#f4f4f4"/><path d="M215.8,525.1 Q218.1,525.9 218.4,528.1 Q218.7,525.9 221.0,525.1Z" fill="#e4e4e4"/><circle cx="218.4" cy="540.1" r="5.0" fill="#0c0c0c"/><path d="M215.4,539.8 Q218.1,539.1 218.4,536.4 Q218.7,539.1 221.4,539.8Z" fill="#f4f4f4"/><path d="M215.8,540.8 Q218.1,541.5 218.4,543.8 Q218.7,541.5 221.0,540.8Z" fill="#e4e4e4"/>
<rect x="129" y="506.2" width="106" height="2.8" fill="#111"/>
<path d="M205.8,458.5 V557" stroke="#8c8c8c" stroke-width="1.4"/>
<path d="M236.4,460.6 C242,461.6 242,473.6 236.4,474.6" fill="none" stroke="#000" stroke-width="1"/>
<path d="M236.4,476.0 C242,477.0 242,489.0 236.4,490.0" fill="none" stroke="#000" stroke-width="1"/>
<path d="M236.4,491.4 C242,492.4 242,504.4 236.4,505.4" fill="none" stroke="#000" stroke-width="1"/>
<path d="M236.4,509.8 C242,510.8 242,522.8 236.4,523.8" fill="none" stroke="#000" stroke-width="1"/>
<path d="M236.4,525.2 C242,526.2 242,538.2 236.4,539.2" fill="none" stroke="#000" stroke-width="1"/>
<path d="M236.4,540.6 C242,541.6 242,553.6 236.4,554.6" fill="none" stroke="#000" stroke-width="1"/>
<rect x="124.5" y="504.5" width="3" height="6" fill="#111"/>
<g stroke="#000" fill="none" stroke-width="1.2"><path d="M237,469.8 C270,473 300,478 318.7,481.2 C335,483.5 352,484.5 363,485.3"/><path d="M237,546.2 C270,543 300,538 318.7,534.8 C335,532.5 352,531.5 363,530.7"/><path d="M237,473 C270,476.5 295,480.5 316,484.5 C335,487 350,488 361.3,488"/><path d="M237,543 C270,539.5 295,535.5 316,531.5 C335,529 350,528 361.3,528"/><path d="M238.9,483.5 L303,495 C305.5,495.5 306.8,497 306.8,500 V516 C306.8,519 305.5,520.5 303,521 L238.9,532.3" stroke-width="1.5"/><path d="M239,486 L302,497 C304,497.5 304.8,499 304.8,501 V515 C304.8,517 304,518.5 302,519 L239,530" stroke-width="0.8"/><path d="M316,484 C320,495 320,520 316,532" stroke-width="1"/><path d="M320,487 C324,497 324,519 320,529" stroke-width="1"/></g>
<rect x="253.1" y="460.4" width="3.5" height="8.9" rx="1.75" fill="none" stroke="#000" stroke-width="1.3"/>
<rect x="253.1" y="546.9" width="3.5" height="8.9" rx="1.75" fill="none" stroke="#000" stroke-width="1.3"/>
<rect x="258.4" y="459.5" width="3.5" height="9.8" rx="1.75" fill="none" stroke="#000" stroke-width="1.3"/>
<rect x="258.4" y="546.9" width="3.5" height="9.8" rx="1.75" fill="none" stroke="#000" stroke-width="1.3"/>
<rect x="263.8" y="460.4" width="3.5" height="9.8" rx="1.75" fill="none" stroke="#000" stroke-width="1.3"/>
<rect x="263.8" y="546.0" width="3.5" height="9.8" rx="1.75" fill="none" stroke="#000" stroke-width="1.3"/>
<rect x="269.1" y="460.4" width="3.5" height="9.8" rx="1.75" fill="none" stroke="#000" stroke-width="1.3"/>
<rect x="269.1" y="546.0" width="3.5" height="9.8" rx="1.75" fill="none" stroke="#000" stroke-width="1.3"/>
<rect x="274.8" y="462.2" width="3.5" height="8.9" rx="1.75" fill="none" stroke="#000" stroke-width="1.3"/>
<rect x="274.8" y="545.1" width="3.5" height="8.9" rx="1.75" fill="none" stroke="#000" stroke-width="1.3"/>
<rect x="280.1" y="463.0" width="3.5" height="8.6" rx="1.75" fill="none" stroke="#000" stroke-width="1.3"/>
<rect x="280.1" y="544.6" width="3.5" height="8.6" rx="1.75" fill="none" stroke="#000" stroke-width="1.3"/>
<rect x="285.4" y="464.8" width="3.5" height="7.2" rx="1.75" fill="none" stroke="#000" stroke-width="1.3"/>
<rect x="285.4" y="544.2" width="3.5" height="7.2" rx="1.75" fill="none" stroke="#000" stroke-width="1.3"/>
<rect x="169.3" y="450.1" width="2.4" height="4.5" fill="#111"/>
<rect x="236.3" y="450.1" width="2.4" height="4.5" fill="#111"/>
<rect x="244.1" y="450.1" width="2.4" height="4.5" fill="#111"/>
<rect x="169.3" y="561.2" width="2.4" height="4.5" fill="#111"/>
<rect x="236.3" y="561.2" width="2.4" height="4.5" fill="#111"/>
<rect x="244.1" y="561.2" width="2.4" height="4.5" fill="#111"/>
<rect x="274.2" y="454.0" width="2.2" height="4" fill="#111"/>
<rect x="274.2" y="558.0" width="2.2" height="4" fill="#111"/>
<rect x="255.0" y="480.2" width="2" height="3.5" fill="#111"/>
<rect x="275.0" y="481.2" width="2" height="3.5" fill="#111"/>
<rect x="291.7" y="480.2" width="2.6" height="3.5" fill="#111"/>
<rect x="294.7" y="480.2" width="2.6" height="3.5" fill="#111"/>
<rect x="255.0" y="531.2" width="2" height="3.5" fill="#111"/>
<rect x="275.0" y="531.2" width="2" height="3.5" fill="#111"/>
<rect x="291.7" y="531.2" width="2.6" height="3.5" fill="#111"/>
<rect x="294.7" y="531.2" width="2.6" height="3.5" fill="#111"/>
<ellipse cx="259.5" cy="491.5" rx="1.6" ry="2.8" fill="none" stroke="#111" stroke-width="1.1"/>
<ellipse cx="270" cy="493.5" rx="1.6" ry="2.8" fill="none" stroke="#111" stroke-width="1.1"/>
<ellipse cx="280.5" cy="494.5" rx="1.6" ry="2.8" fill="none" stroke="#111" stroke-width="1.1"/>
<ellipse cx="291.5" cy="497" rx="1.6" ry="2.8" fill="none" stroke="#111" stroke-width="1.1"/>
<ellipse cx="259.5" cy="524.5" rx="1.6" ry="2.8" fill="none" stroke="#111" stroke-width="1.1"/>
<ellipse cx="270" cy="522.5" rx="1.6" ry="2.8" fill="none" stroke="#111" stroke-width="1.1"/>
<ellipse cx="280.5" cy="521" rx="1.6" ry="2.8" fill="none" stroke="#111" stroke-width="1.1"/>
<ellipse cx="291.5" cy="518.5" rx="1.6" ry="2.8" fill="none" stroke="#111" stroke-width="1.1"/>
<rect x="267.5" y="499.4" width="3" height="3.6" fill="none" stroke="#222" stroke-width="0.9"/>
<rect x="274.6" y="499.8" width="3.2" height="4.4" fill="#222"/>
<rect x="280.9" y="499.8" width="3.2" height="4.4" fill="#222"/>
<rect x="266.9" y="511.8" width="3.2" height="4.4" fill="#222"/>
<rect x="274.6" y="511.8" width="3.2" height="4.4" fill="#222"/>
<rect x="281.5" y="512.2" width="3" height="3.6" fill="none" stroke="#222" stroke-width="0.9"/>
<g stroke="#000" fill="none"><rect x="325.8" y="490.2" width="32" height="35.9" stroke-width="1.5"/><path d="M327.2,490.2 V526.1" stroke-width="2.4"/><path d="M328.5,492.5 C342,495.5 347.5,502 347.5,508 C347.5,514 342,520.5 328.5,523.5" stroke-width="1.1"/><path d="M335,493 C345,496 350,502 356,505 M335,523 C345,520 350,514 356,511" stroke-width="0.9"/><path d="M330,491.8 H356 M330,524.5 H356" stroke-width="1.7"/><rect x="358.6" y="490.8" width="34.4" height="35" fill="#fff" stroke="none"/><rect x="360" y="491.5" width="32.4" height="12.4" stroke-width="1.8"/><rect x="360" y="511" width="32.4" height="14.2" stroke-width="1.8"/><path d="M362,493.5 H377.5 M362,513 H377.5" stroke="#888" stroke-width="0.8"/><path d="M378.3,491.5 V525.2 M379.9,491.5 V525.2" stroke-width="1.1"/><path d="M357.8,490.2 V526.1" stroke-width="1.6"/></g>
<circle cx="359.2" cy="507.8" r="3.4" fill="#111"/><circle cx="359.2" cy="507.8" r="1.1" fill="#aaa"/>
<circle cx="380" cy="507.8" r="3.4" fill="#111"/><circle cx="380" cy="507.8" r="1.1" fill="#aaa"/>
<path d="M104.5,637.3 C108,634.2 117,631 131.5,630 L260.7,618 C275,617 285,616.7 295,616.7 C320,616.7 345,617.8 358,618.5 C361,619 362.6,620.2 362.6,620.2 C364,623 364.4,628 364.4,632 L365,640.1 L360.3,642.5 L318.1,658.9 L290,652.4 C280,650.8 270,648.6 260.7,648.4 H131.5 C120,648 112,645.5 104.5,642.6Z" fill="#fff" stroke="#000" stroke-width="1.4"/>
<g stroke="#000" fill="none"><path d="M104.5,637.9 H362.5" stroke-width="2"/><path d="M104.5,641.3 H362.5" stroke-width="2"/><path d="M314.6,639.6 H362.5" stroke-width="3"/><path d="M132.1,630 V648.4" stroke-width="1" stroke="#777"/><path d="M260.7,617.5 V648.4" stroke-width="1.1"/><rect x="245.6" y="619.6" width="15.1" height="15" stroke-width="1.1"/><path d="M301.7,618.5 C310,620 315,621 318.1,622.6 C321,624 323,625.5 324,627.3 C325,630 325.5,633 325.7,636.6" stroke-width="1.2"/><path d="M290,617.5 C320,618 345,619 357,620 C359.5,620.5 360.5,622 360.8,624 L362,640.1" stroke-width="1"/><path d="M260.7,647.2 L313.4,646.6 C317,646 320,645 322,643.5" stroke-width="1"/><path d="M290,651 L318,657.3 L359.5,641.5" stroke-width="0.9"/><path d="M339.2,654.2 L348.6,660 M344.7,650.7 L355.3,657.7" stroke-width="0.9" stroke="#777"/></g>
<ellipse cx="142.8" cy="632.9" rx="2.4" ry="1.5" fill="none" stroke="#000" stroke-width="1.1"/>
<ellipse cx="257.2" cy="625.7" rx="1.8" ry="2.8" fill="none" stroke="#000" stroke-width="1.2"/>
<rect x="129.4" y="647.6" width="103.4" height="5.4" fill="#8a8a8a"/><rect x="129.7" y="652.4" width="102.8" height="1.9" fill="#111"/><ellipse cx="133.8" cy="653.9" rx="3.0" ry="1.1" fill="#111"/><ellipse cx="139.7" cy="653.9" rx="3.0" ry="1.1" fill="#111"/><path d="M135.2,651.2 L136.8,648.2 L138.4,651.2Z" fill="#1a1a1a"/><rect x="131.2" y="649.0" width="1.3" height="2.4" fill="#f2f2f2"/><rect x="141.2" y="649.0" width="1.3" height="2.4" fill="#f2f2f2"/><ellipse cx="148.6" cy="653.9" rx="3.0" ry="1.1" fill="#111"/><ellipse cx="154.5" cy="653.9" rx="3.0" ry="1.1" fill="#111"/><path d="M150.0,651.2 L151.6,648.2 L153.2,651.2Z" fill="#1a1a1a"/><rect x="145.9" y="649.0" width="1.3" height="2.4" fill="#f2f2f2"/><rect x="156.0" y="649.0" width="1.3" height="2.4" fill="#f2f2f2"/><ellipse cx="163.4" cy="653.9" rx="3.0" ry="1.1" fill="#111"/><ellipse cx="169.3" cy="653.9" rx="3.0" ry="1.1" fill="#111"/><path d="M164.7,651.2 L166.3,648.2 L167.9,651.2Z" fill="#1a1a1a"/><rect x="160.7" y="649.0" width="1.3" height="2.4" fill="#f2f2f2"/><rect x="170.8" y="649.0" width="1.3" height="2.4" fill="#f2f2f2"/><ellipse cx="178.1" cy="653.9" rx="3.0" ry="1.1" fill="#111"/><ellipse cx="184.0" cy="653.9" rx="3.0" ry="1.1" fill="#111"/><path d="M179.5,651.2 L181.1,648.2 L182.7,651.2Z" fill="#1a1a1a"/><rect x="175.5" y="649.0" width="1.3" height="2.4" fill="#f2f2f2"/><rect x="185.5" y="649.0" width="1.3" height="2.4" fill="#f2f2f2"/><ellipse cx="192.9" cy="653.9" rx="3.0" ry="1.1" fill="#111"/><ellipse cx="198.8" cy="653.9" rx="3.0" ry="1.1" fill="#111"/><path d="M194.3,651.2 L195.9,648.2 L197.5,651.2Z" fill="#1a1a1a"/><rect x="190.3" y="649.0" width="1.3" height="2.4" fill="#f2f2f2"/><rect x="200.3" y="649.0" width="1.3" height="2.4" fill="#f2f2f2"/><ellipse cx="207.7" cy="653.9" rx="3.0" ry="1.1" fill="#111"/><ellipse cx="213.6" cy="653.9" rx="3.0" ry="1.1" fill="#111"/><path d="M209.0,651.2 L210.6,648.2 L212.2,651.2Z" fill="#1a1a1a"/><rect x="205.0" y="649.0" width="1.3" height="2.4" fill="#f2f2f2"/><rect x="215.1" y="649.0" width="1.3" height="2.4" fill="#f2f2f2"/><ellipse cx="222.5" cy="653.9" rx="3.0" ry="1.1" fill="#111"/><ellipse cx="228.4" cy="653.9" rx="3.0" ry="1.1" fill="#111"/><path d="M223.8,651.2 L225.4,648.2 L227.0,651.2Z" fill="#1a1a1a"/><rect x="219.8" y="649.0" width="1.3" height="2.4" fill="#f2f2f2"/><rect x="229.8" y="649.0" width="1.3" height="2.4" fill="#f2f2f2"/>
<circle cx="237" cy="646.8" r="1.1" fill="none" stroke="#333" stroke-width="0.9"/>
<circle cx="245.5" cy="646.8" r="1.1" fill="none" stroke="#333" stroke-width="0.9"/>
<g stroke="#000" fill="none"><path d="M365,626.1 H391.9 M360.3,660 H391.9" stroke-width="1.1"/><path d="M365,628.5 H378.5 M365,639.5 H378.5 M365,645 H378.5 M365,657.5 H378.5" stroke="#999" stroke-width="1"/><path d="M379,626.1 V660" stroke-width="1"/><rect x="380.8" y="626.8" width="7.6" height="13.3" stroke-width="1.8"/><rect x="380.8" y="644.2" width="7.6" height="14.7" stroke-width="1.8"/><path d="M391.9,626.1 V660 M359,642.5 V660" stroke-width="1.2"/></g>
<rect x="356" y="661.5" width="5.2" height="5.2" rx="1" fill="#777" stroke="#111" stroke-width="1"/><rect x="377" y="661.5" width="5.2" height="5.2" rx="1" fill="#777" stroke="#111" stroke-width="1"/>
<g stroke="#858585" stroke-width="1.1" fill="none"><path d="M417.7,616.7 V665.9"/><path d="M360,616.7 H421"/><path d="M382.5,665.9 H421"/></g>
<path d="M417.7,616.7 l-1.3,8 l2.6,0Z" fill="#888"/><path d="M417.7,665.9 l-1.3,-8 l2.6,0Z" fill="#888"/>
<text transform="translate(416.6,641.6) rotate(-90) scale(0.775,1)" text-anchor="middle" font-family="Liberation Serif" font-size="16.2" fill="#3c3c3c">118</text>
</svg>
<div class="cap" style="left:107.5px;top:323.5px;transform:scaleX(0.955)">C0820<i></i>ZR<i></i>210~280W</div><div class="cap" style="left:256.5px;top:323.5px">:</div><div class="cap" style="left:270.4px;top:323.5px">L721×W320×H129</div>
<div class="cap" style="left:736.2px;top:323.5px;transform:scaleX(0.955)">C0820<i></i>ZR<i></i>30~100W</div><div class="cap" style="left:877.2px;top:323.5px">:</div><div class="cap" style="left:890.6px;top:323.5px">L656×W213×H135</div>
<div class="cap" style="left:107.5px;top:726.0px;transform:scaleX(0.955)">C0820<i></i>ZR<i></i>110~200W</div><div class="cap" style="left:257.2px;top:726.0px">:</div><div class="cap" style="left:270.0px;top:726.0px">L681×W299×H118</div>
</body></html>
